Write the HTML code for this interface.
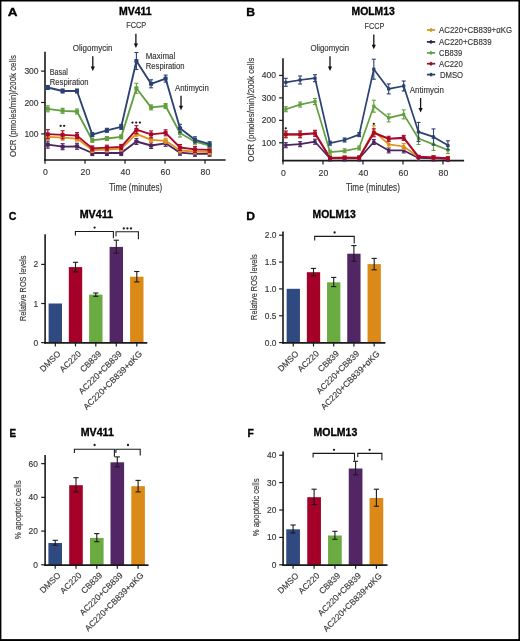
<!DOCTYPE html>
<html><head><meta charset="utf-8"><title>Figure</title>
<style>
html,body{margin:0;padding:0;background:#fff;}
body{width:520px;height:641px;overflow:hidden;}
svg{display:block;font-family:"Liberation Sans",sans-serif;will-change:transform;}
</style></head>
<body>
<svg width="520" height="641" viewBox="0 0 520 641">
<rect x="0" y="0" width="520" height="641" fill="#fff"/>
<text x="7.80" y="16.00" font-size="11.7" font-weight="bold" fill="#000" stroke="#000" stroke-width="0.3" textLength="9.80" lengthAdjust="spacingAndGlyphs">A</text>
<text x="118.90" y="14.70" font-size="10.0" font-weight="bold" fill="#000" stroke="#000" stroke-width="0.3" textLength="32.80" lengthAdjust="spacingAndGlyphs">MV411</text>
<line x1="45.00" y1="51.70" x2="45.00" y2="160.80" stroke="#1a1a1a" stroke-width="1.6"/>
<line x1="41.10" y1="133.90" x2="45.00" y2="133.90" stroke="#1a1a1a" stroke-width="1.2"/>
<text x="38.60" y="136.90" font-size="8.6" text-anchor="end" fill="#363636" stroke="#363636" stroke-width="0.15" textLength="14.20" lengthAdjust="spacingAndGlyphs">100</text>
<line x1="41.10" y1="102.50" x2="45.00" y2="102.50" stroke="#1a1a1a" stroke-width="1.2"/>
<text x="38.60" y="105.50" font-size="8.6" text-anchor="end" fill="#363636" stroke="#363636" stroke-width="0.15" textLength="14.20" lengthAdjust="spacingAndGlyphs">200</text>
<line x1="41.10" y1="71.10" x2="45.00" y2="71.10" stroke="#1a1a1a" stroke-width="1.2"/>
<text x="38.60" y="74.10" font-size="8.6" text-anchor="end" fill="#363636" stroke="#363636" stroke-width="0.15" textLength="14.20" lengthAdjust="spacingAndGlyphs">300</text>
<line x1="44.20" y1="160.00" x2="225.60" y2="160.00" stroke="#1a1a1a" stroke-width="1.6"/>
<line x1="45.00" y1="160.00" x2="45.00" y2="163.80" stroke="#1a1a1a" stroke-width="1.2"/>
<text x="45.40" y="175.20" font-size="8.7" text-anchor="middle" fill="#363636" stroke="#363636" stroke-width="0.15">0</text>
<line x1="85.00" y1="160.00" x2="85.00" y2="163.80" stroke="#1a1a1a" stroke-width="1.2"/>
<text x="85.40" y="175.20" font-size="8.7" text-anchor="middle" fill="#363636" stroke="#363636" stroke-width="0.15">20</text>
<line x1="125.00" y1="160.00" x2="125.00" y2="163.80" stroke="#1a1a1a" stroke-width="1.2"/>
<text x="125.40" y="175.20" font-size="8.7" text-anchor="middle" fill="#363636" stroke="#363636" stroke-width="0.15">40</text>
<line x1="165.00" y1="160.00" x2="165.00" y2="163.80" stroke="#1a1a1a" stroke-width="1.2"/>
<text x="165.40" y="175.20" font-size="8.7" text-anchor="middle" fill="#363636" stroke="#363636" stroke-width="0.15">60</text>
<line x1="205.00" y1="160.00" x2="205.00" y2="163.80" stroke="#1a1a1a" stroke-width="1.2"/>
<text x="205.40" y="175.20" font-size="8.7" text-anchor="middle" fill="#363636" stroke="#363636" stroke-width="0.15">80</text>
<text x="109.20" y="190.70" font-size="10.0" fill="#363636" stroke="#363636" stroke-width="0.15" textLength="53.00" lengthAdjust="spacingAndGlyphs">Time (minutes)</text>
<text transform="translate(15.60,156.90) rotate(-90)" font-size="9.0" fill="#363636" stroke="#363636" stroke-width="0.15" textLength="101.70" lengthAdjust="spacingAndGlyphs">OCR (pmoles/min)/200k cells</text>
<polyline points="47.80,144.60 62.60,146.70 77.00,146.30 92.30,153.00 106.90,153.00 121.20,153.00 136.40,141.50 151.10,145.50 165.60,143.30 180.00,152.70 195.00,153.80 209.60,153.80" fill="none" stroke="#4b2461" stroke-width="1.85" stroke-linejoin="round"/>
<line x1="47.80" y1="141.10" x2="47.80" y2="148.10" stroke="#4b2461" stroke-width="1.1"/>
<line x1="45.80" y1="141.10" x2="49.80" y2="141.10" stroke="#4b2461" stroke-width="1.1"/>
<line x1="45.80" y1="148.10" x2="49.80" y2="148.10" stroke="#4b2461" stroke-width="1.1"/>
<rect x="45.75" y="142.55" width="4.10" height="4.10" rx="0.9" fill="#4b2461"/>
<line x1="62.60" y1="143.70" x2="62.60" y2="149.70" stroke="#4b2461" stroke-width="1.1"/>
<line x1="60.60" y1="143.70" x2="64.60" y2="143.70" stroke="#4b2461" stroke-width="1.1"/>
<line x1="60.60" y1="149.70" x2="64.60" y2="149.70" stroke="#4b2461" stroke-width="1.1"/>
<rect x="60.55" y="144.65" width="4.10" height="4.10" rx="0.9" fill="#4b2461"/>
<line x1="77.00" y1="143.30" x2="77.00" y2="149.30" stroke="#4b2461" stroke-width="1.1"/>
<line x1="75.00" y1="143.30" x2="79.00" y2="143.30" stroke="#4b2461" stroke-width="1.1"/>
<line x1="75.00" y1="149.30" x2="79.00" y2="149.30" stroke="#4b2461" stroke-width="1.1"/>
<rect x="74.95" y="144.25" width="4.10" height="4.10" rx="0.9" fill="#4b2461"/>
<line x1="92.30" y1="150.50" x2="92.30" y2="155.50" stroke="#4b2461" stroke-width="1.1"/>
<line x1="90.30" y1="150.50" x2="94.30" y2="150.50" stroke="#4b2461" stroke-width="1.1"/>
<line x1="90.30" y1="155.50" x2="94.30" y2="155.50" stroke="#4b2461" stroke-width="1.1"/>
<rect x="90.25" y="150.95" width="4.10" height="4.10" rx="0.9" fill="#4b2461"/>
<line x1="106.90" y1="150.50" x2="106.90" y2="155.50" stroke="#4b2461" stroke-width="1.1"/>
<line x1="104.90" y1="150.50" x2="108.90" y2="150.50" stroke="#4b2461" stroke-width="1.1"/>
<line x1="104.90" y1="155.50" x2="108.90" y2="155.50" stroke="#4b2461" stroke-width="1.1"/>
<rect x="104.85" y="150.95" width="4.10" height="4.10" rx="0.9" fill="#4b2461"/>
<line x1="121.20" y1="150.50" x2="121.20" y2="155.50" stroke="#4b2461" stroke-width="1.1"/>
<line x1="119.20" y1="150.50" x2="123.20" y2="150.50" stroke="#4b2461" stroke-width="1.1"/>
<line x1="119.20" y1="155.50" x2="123.20" y2="155.50" stroke="#4b2461" stroke-width="1.1"/>
<rect x="119.15" y="150.95" width="4.10" height="4.10" rx="0.9" fill="#4b2461"/>
<line x1="136.40" y1="138.50" x2="136.40" y2="144.50" stroke="#4b2461" stroke-width="1.1"/>
<line x1="134.40" y1="138.50" x2="138.40" y2="138.50" stroke="#4b2461" stroke-width="1.1"/>
<line x1="134.40" y1="144.50" x2="138.40" y2="144.50" stroke="#4b2461" stroke-width="1.1"/>
<rect x="134.35" y="139.45" width="4.10" height="4.10" rx="0.9" fill="#4b2461"/>
<line x1="151.10" y1="142.50" x2="151.10" y2="148.50" stroke="#4b2461" stroke-width="1.1"/>
<line x1="149.10" y1="142.50" x2="153.10" y2="142.50" stroke="#4b2461" stroke-width="1.1"/>
<line x1="149.10" y1="148.50" x2="153.10" y2="148.50" stroke="#4b2461" stroke-width="1.1"/>
<rect x="149.05" y="143.45" width="4.10" height="4.10" rx="0.9" fill="#4b2461"/>
<line x1="165.60" y1="140.30" x2="165.60" y2="146.30" stroke="#4b2461" stroke-width="1.1"/>
<line x1="163.60" y1="140.30" x2="167.60" y2="140.30" stroke="#4b2461" stroke-width="1.1"/>
<line x1="163.60" y1="146.30" x2="167.60" y2="146.30" stroke="#4b2461" stroke-width="1.1"/>
<rect x="163.55" y="141.25" width="4.10" height="4.10" rx="0.9" fill="#4b2461"/>
<line x1="180.00" y1="150.20" x2="180.00" y2="155.20" stroke="#4b2461" stroke-width="1.1"/>
<line x1="178.00" y1="150.20" x2="182.00" y2="150.20" stroke="#4b2461" stroke-width="1.1"/>
<line x1="178.00" y1="155.20" x2="182.00" y2="155.20" stroke="#4b2461" stroke-width="1.1"/>
<rect x="177.95" y="150.65" width="4.10" height="4.10" rx="0.9" fill="#4b2461"/>
<line x1="195.00" y1="151.30" x2="195.00" y2="156.30" stroke="#4b2461" stroke-width="1.1"/>
<line x1="193.00" y1="151.30" x2="197.00" y2="151.30" stroke="#4b2461" stroke-width="1.1"/>
<line x1="193.00" y1="156.30" x2="197.00" y2="156.30" stroke="#4b2461" stroke-width="1.1"/>
<rect x="192.95" y="151.75" width="4.10" height="4.10" rx="0.9" fill="#4b2461"/>
<line x1="209.60" y1="151.30" x2="209.60" y2="156.30" stroke="#4b2461" stroke-width="1.1"/>
<line x1="207.60" y1="151.30" x2="211.60" y2="151.30" stroke="#4b2461" stroke-width="1.1"/>
<line x1="207.60" y1="156.30" x2="211.60" y2="156.30" stroke="#4b2461" stroke-width="1.1"/>
<rect x="207.55" y="151.75" width="4.10" height="4.10" rx="0.9" fill="#4b2461"/>
<polyline points="47.80,136.80 62.60,137.70 77.00,138.60 92.30,150.00 106.90,149.50 121.20,148.60 136.40,133.80 151.10,139.80 165.60,140.80 180.00,150.50 195.00,151.50 209.60,152.00" fill="none" stroke="#df921c" stroke-width="1.85" stroke-linejoin="round"/>
<line x1="47.80" y1="134.30" x2="47.80" y2="139.30" stroke="#df921c" stroke-width="1.1"/>
<line x1="45.80" y1="134.30" x2="49.80" y2="134.30" stroke="#df921c" stroke-width="1.1"/>
<line x1="45.80" y1="139.30" x2="49.80" y2="139.30" stroke="#df921c" stroke-width="1.1"/>
<rect x="45.75" y="134.75" width="4.10" height="4.10" rx="0.9" fill="#df921c"/>
<line x1="62.60" y1="135.20" x2="62.60" y2="140.20" stroke="#df921c" stroke-width="1.1"/>
<line x1="60.60" y1="135.20" x2="64.60" y2="135.20" stroke="#df921c" stroke-width="1.1"/>
<line x1="60.60" y1="140.20" x2="64.60" y2="140.20" stroke="#df921c" stroke-width="1.1"/>
<rect x="60.55" y="135.65" width="4.10" height="4.10" rx="0.9" fill="#df921c"/>
<line x1="77.00" y1="136.10" x2="77.00" y2="141.10" stroke="#df921c" stroke-width="1.1"/>
<line x1="75.00" y1="136.10" x2="79.00" y2="136.10" stroke="#df921c" stroke-width="1.1"/>
<line x1="75.00" y1="141.10" x2="79.00" y2="141.10" stroke="#df921c" stroke-width="1.1"/>
<rect x="74.95" y="136.55" width="4.10" height="4.10" rx="0.9" fill="#df921c"/>
<line x1="92.30" y1="147.50" x2="92.30" y2="152.50" stroke="#df921c" stroke-width="1.1"/>
<line x1="90.30" y1="147.50" x2="94.30" y2="147.50" stroke="#df921c" stroke-width="1.1"/>
<line x1="90.30" y1="152.50" x2="94.30" y2="152.50" stroke="#df921c" stroke-width="1.1"/>
<rect x="90.25" y="147.95" width="4.10" height="4.10" rx="0.9" fill="#df921c"/>
<line x1="106.90" y1="147.00" x2="106.90" y2="152.00" stroke="#df921c" stroke-width="1.1"/>
<line x1="104.90" y1="147.00" x2="108.90" y2="147.00" stroke="#df921c" stroke-width="1.1"/>
<line x1="104.90" y1="152.00" x2="108.90" y2="152.00" stroke="#df921c" stroke-width="1.1"/>
<rect x="104.85" y="147.45" width="4.10" height="4.10" rx="0.9" fill="#df921c"/>
<line x1="121.20" y1="146.10" x2="121.20" y2="151.10" stroke="#df921c" stroke-width="1.1"/>
<line x1="119.20" y1="146.10" x2="123.20" y2="146.10" stroke="#df921c" stroke-width="1.1"/>
<line x1="119.20" y1="151.10" x2="123.20" y2="151.10" stroke="#df921c" stroke-width="1.1"/>
<rect x="119.15" y="146.55" width="4.10" height="4.10" rx="0.9" fill="#df921c"/>
<line x1="136.40" y1="131.30" x2="136.40" y2="136.30" stroke="#df921c" stroke-width="1.1"/>
<line x1="134.40" y1="131.30" x2="138.40" y2="131.30" stroke="#df921c" stroke-width="1.1"/>
<line x1="134.40" y1="136.30" x2="138.40" y2="136.30" stroke="#df921c" stroke-width="1.1"/>
<rect x="134.35" y="131.75" width="4.10" height="4.10" rx="0.9" fill="#df921c"/>
<line x1="151.10" y1="137.30" x2="151.10" y2="142.30" stroke="#df921c" stroke-width="1.1"/>
<line x1="149.10" y1="137.30" x2="153.10" y2="137.30" stroke="#df921c" stroke-width="1.1"/>
<line x1="149.10" y1="142.30" x2="153.10" y2="142.30" stroke="#df921c" stroke-width="1.1"/>
<rect x="149.05" y="137.75" width="4.10" height="4.10" rx="0.9" fill="#df921c"/>
<line x1="165.60" y1="138.30" x2="165.60" y2="143.30" stroke="#df921c" stroke-width="1.1"/>
<line x1="163.60" y1="138.30" x2="167.60" y2="138.30" stroke="#df921c" stroke-width="1.1"/>
<line x1="163.60" y1="143.30" x2="167.60" y2="143.30" stroke="#df921c" stroke-width="1.1"/>
<rect x="163.55" y="138.75" width="4.10" height="4.10" rx="0.9" fill="#df921c"/>
<line x1="180.00" y1="148.00" x2="180.00" y2="153.00" stroke="#df921c" stroke-width="1.1"/>
<line x1="178.00" y1="148.00" x2="182.00" y2="148.00" stroke="#df921c" stroke-width="1.1"/>
<line x1="178.00" y1="153.00" x2="182.00" y2="153.00" stroke="#df921c" stroke-width="1.1"/>
<rect x="177.95" y="148.45" width="4.10" height="4.10" rx="0.9" fill="#df921c"/>
<line x1="195.00" y1="149.00" x2="195.00" y2="154.00" stroke="#df921c" stroke-width="1.1"/>
<line x1="193.00" y1="149.00" x2="197.00" y2="149.00" stroke="#df921c" stroke-width="1.1"/>
<line x1="193.00" y1="154.00" x2="197.00" y2="154.00" stroke="#df921c" stroke-width="1.1"/>
<rect x="192.95" y="149.45" width="4.10" height="4.10" rx="0.9" fill="#df921c"/>
<line x1="209.60" y1="149.50" x2="209.60" y2="154.50" stroke="#df921c" stroke-width="1.1"/>
<line x1="207.60" y1="149.50" x2="211.60" y2="149.50" stroke="#df921c" stroke-width="1.1"/>
<line x1="207.60" y1="154.50" x2="211.60" y2="154.50" stroke="#df921c" stroke-width="1.1"/>
<rect x="207.55" y="149.95" width="4.10" height="4.10" rx="0.9" fill="#df921c"/>
<polyline points="47.80,134.20 62.60,134.80 77.00,135.60 92.30,148.40 106.90,147.70 121.20,146.90 136.40,129.70 151.10,134.40 165.60,132.80 180.00,147.50 195.00,149.40 209.60,149.80" fill="none" stroke="#a8082c" stroke-width="1.85" stroke-linejoin="round"/>
<line x1="47.80" y1="129.70" x2="47.80" y2="138.70" stroke="#a8082c" stroke-width="1.1"/>
<line x1="45.80" y1="129.70" x2="49.80" y2="129.70" stroke="#a8082c" stroke-width="1.1"/>
<line x1="45.80" y1="138.70" x2="49.80" y2="138.70" stroke="#a8082c" stroke-width="1.1"/>
<rect x="45.75" y="132.15" width="4.10" height="4.10" rx="0.9" fill="#a8082c"/>
<line x1="62.60" y1="130.80" x2="62.60" y2="138.80" stroke="#a8082c" stroke-width="1.1"/>
<line x1="60.60" y1="130.80" x2="64.60" y2="130.80" stroke="#a8082c" stroke-width="1.1"/>
<line x1="60.60" y1="138.80" x2="64.60" y2="138.80" stroke="#a8082c" stroke-width="1.1"/>
<rect x="60.55" y="132.75" width="4.10" height="4.10" rx="0.9" fill="#a8082c"/>
<line x1="77.00" y1="132.60" x2="77.00" y2="138.60" stroke="#a8082c" stroke-width="1.1"/>
<line x1="75.00" y1="132.60" x2="79.00" y2="132.60" stroke="#a8082c" stroke-width="1.1"/>
<line x1="75.00" y1="138.60" x2="79.00" y2="138.60" stroke="#a8082c" stroke-width="1.1"/>
<rect x="74.95" y="133.55" width="4.10" height="4.10" rx="0.9" fill="#a8082c"/>
<line x1="92.30" y1="145.90" x2="92.30" y2="150.90" stroke="#a8082c" stroke-width="1.1"/>
<line x1="90.30" y1="145.90" x2="94.30" y2="145.90" stroke="#a8082c" stroke-width="1.1"/>
<line x1="90.30" y1="150.90" x2="94.30" y2="150.90" stroke="#a8082c" stroke-width="1.1"/>
<rect x="90.25" y="146.35" width="4.10" height="4.10" rx="0.9" fill="#a8082c"/>
<line x1="106.90" y1="145.20" x2="106.90" y2="150.20" stroke="#a8082c" stroke-width="1.1"/>
<line x1="104.90" y1="145.20" x2="108.90" y2="145.20" stroke="#a8082c" stroke-width="1.1"/>
<line x1="104.90" y1="150.20" x2="108.90" y2="150.20" stroke="#a8082c" stroke-width="1.1"/>
<rect x="104.85" y="145.65" width="4.10" height="4.10" rx="0.9" fill="#a8082c"/>
<line x1="121.20" y1="144.40" x2="121.20" y2="149.40" stroke="#a8082c" stroke-width="1.1"/>
<line x1="119.20" y1="144.40" x2="123.20" y2="144.40" stroke="#a8082c" stroke-width="1.1"/>
<line x1="119.20" y1="149.40" x2="123.20" y2="149.40" stroke="#a8082c" stroke-width="1.1"/>
<rect x="119.15" y="144.85" width="4.10" height="4.10" rx="0.9" fill="#a8082c"/>
<line x1="136.40" y1="125.70" x2="136.40" y2="133.70" stroke="#a8082c" stroke-width="1.1"/>
<line x1="134.40" y1="125.70" x2="138.40" y2="125.70" stroke="#a8082c" stroke-width="1.1"/>
<line x1="134.40" y1="133.70" x2="138.40" y2="133.70" stroke="#a8082c" stroke-width="1.1"/>
<rect x="134.35" y="127.65" width="4.10" height="4.10" rx="0.9" fill="#a8082c"/>
<line x1="151.10" y1="130.90" x2="151.10" y2="137.90" stroke="#a8082c" stroke-width="1.1"/>
<line x1="149.10" y1="130.90" x2="153.10" y2="130.90" stroke="#a8082c" stroke-width="1.1"/>
<line x1="149.10" y1="137.90" x2="153.10" y2="137.90" stroke="#a8082c" stroke-width="1.1"/>
<rect x="149.05" y="132.35" width="4.10" height="4.10" rx="0.9" fill="#a8082c"/>
<line x1="165.60" y1="129.80" x2="165.60" y2="135.80" stroke="#a8082c" stroke-width="1.1"/>
<line x1="163.60" y1="129.80" x2="167.60" y2="129.80" stroke="#a8082c" stroke-width="1.1"/>
<line x1="163.60" y1="135.80" x2="167.60" y2="135.80" stroke="#a8082c" stroke-width="1.1"/>
<rect x="163.55" y="130.75" width="4.10" height="4.10" rx="0.9" fill="#a8082c"/>
<line x1="180.00" y1="144.50" x2="180.00" y2="150.50" stroke="#a8082c" stroke-width="1.1"/>
<line x1="178.00" y1="144.50" x2="182.00" y2="144.50" stroke="#a8082c" stroke-width="1.1"/>
<line x1="178.00" y1="150.50" x2="182.00" y2="150.50" stroke="#a8082c" stroke-width="1.1"/>
<rect x="177.95" y="145.45" width="4.10" height="4.10" rx="0.9" fill="#a8082c"/>
<line x1="195.00" y1="146.40" x2="195.00" y2="152.40" stroke="#a8082c" stroke-width="1.1"/>
<line x1="193.00" y1="146.40" x2="197.00" y2="146.40" stroke="#a8082c" stroke-width="1.1"/>
<line x1="193.00" y1="152.40" x2="197.00" y2="152.40" stroke="#a8082c" stroke-width="1.1"/>
<rect x="192.95" y="147.35" width="4.10" height="4.10" rx="0.9" fill="#a8082c"/>
<line x1="209.60" y1="147.30" x2="209.60" y2="152.30" stroke="#a8082c" stroke-width="1.1"/>
<line x1="207.60" y1="147.30" x2="211.60" y2="147.30" stroke="#a8082c" stroke-width="1.1"/>
<line x1="207.60" y1="152.30" x2="211.60" y2="152.30" stroke="#a8082c" stroke-width="1.1"/>
<rect x="207.55" y="147.75" width="4.10" height="4.10" rx="0.9" fill="#a8082c"/>
<polyline points="47.80,108.80 62.60,110.80 77.00,111.50 92.30,140.30 106.90,138.50 121.20,136.90 136.40,88.30 151.10,107.40 165.60,106.00 180.00,133.00 195.00,141.70 209.60,145.60" fill="none" stroke="#62a03f" stroke-width="1.85" stroke-linejoin="round"/>
<line x1="47.80" y1="105.80" x2="47.80" y2="111.80" stroke="#62a03f" stroke-width="1.1"/>
<line x1="45.80" y1="105.80" x2="49.80" y2="105.80" stroke="#62a03f" stroke-width="1.1"/>
<line x1="45.80" y1="111.80" x2="49.80" y2="111.80" stroke="#62a03f" stroke-width="1.1"/>
<rect x="45.75" y="106.75" width="4.10" height="4.10" rx="0.9" fill="#62a03f"/>
<line x1="62.60" y1="108.30" x2="62.60" y2="113.30" stroke="#62a03f" stroke-width="1.1"/>
<line x1="60.60" y1="108.30" x2="64.60" y2="108.30" stroke="#62a03f" stroke-width="1.1"/>
<line x1="60.60" y1="113.30" x2="64.60" y2="113.30" stroke="#62a03f" stroke-width="1.1"/>
<rect x="60.55" y="108.75" width="4.10" height="4.10" rx="0.9" fill="#62a03f"/>
<line x1="77.00" y1="109.00" x2="77.00" y2="114.00" stroke="#62a03f" stroke-width="1.1"/>
<line x1="75.00" y1="109.00" x2="79.00" y2="109.00" stroke="#62a03f" stroke-width="1.1"/>
<line x1="75.00" y1="114.00" x2="79.00" y2="114.00" stroke="#62a03f" stroke-width="1.1"/>
<rect x="74.95" y="109.45" width="4.10" height="4.10" rx="0.9" fill="#62a03f"/>
<line x1="92.30" y1="138.30" x2="92.30" y2="142.30" stroke="#62a03f" stroke-width="1.1"/>
<line x1="90.30" y1="138.30" x2="94.30" y2="138.30" stroke="#62a03f" stroke-width="1.1"/>
<line x1="90.30" y1="142.30" x2="94.30" y2="142.30" stroke="#62a03f" stroke-width="1.1"/>
<rect x="90.25" y="138.25" width="4.10" height="4.10" rx="0.9" fill="#62a03f"/>
<line x1="106.90" y1="136.50" x2="106.90" y2="140.50" stroke="#62a03f" stroke-width="1.1"/>
<line x1="104.90" y1="136.50" x2="108.90" y2="136.50" stroke="#62a03f" stroke-width="1.1"/>
<line x1="104.90" y1="140.50" x2="108.90" y2="140.50" stroke="#62a03f" stroke-width="1.1"/>
<rect x="104.85" y="136.45" width="4.10" height="4.10" rx="0.9" fill="#62a03f"/>
<line x1="121.20" y1="134.90" x2="121.20" y2="138.90" stroke="#62a03f" stroke-width="1.1"/>
<line x1="119.20" y1="134.90" x2="123.20" y2="134.90" stroke="#62a03f" stroke-width="1.1"/>
<line x1="119.20" y1="138.90" x2="123.20" y2="138.90" stroke="#62a03f" stroke-width="1.1"/>
<rect x="119.15" y="134.85" width="4.10" height="4.10" rx="0.9" fill="#62a03f"/>
<line x1="136.40" y1="83.30" x2="136.40" y2="93.30" stroke="#62a03f" stroke-width="1.1"/>
<line x1="134.40" y1="83.30" x2="138.40" y2="83.30" stroke="#62a03f" stroke-width="1.1"/>
<line x1="134.40" y1="93.30" x2="138.40" y2="93.30" stroke="#62a03f" stroke-width="1.1"/>
<rect x="134.35" y="86.25" width="4.10" height="4.10" rx="0.9" fill="#62a03f"/>
<line x1="151.10" y1="104.90" x2="151.10" y2="109.90" stroke="#62a03f" stroke-width="1.1"/>
<line x1="149.10" y1="104.90" x2="153.10" y2="104.90" stroke="#62a03f" stroke-width="1.1"/>
<line x1="149.10" y1="109.90" x2="153.10" y2="109.90" stroke="#62a03f" stroke-width="1.1"/>
<rect x="149.05" y="105.35" width="4.10" height="4.10" rx="0.9" fill="#62a03f"/>
<line x1="165.60" y1="103.50" x2="165.60" y2="108.50" stroke="#62a03f" stroke-width="1.1"/>
<line x1="163.60" y1="103.50" x2="167.60" y2="103.50" stroke="#62a03f" stroke-width="1.1"/>
<line x1="163.60" y1="108.50" x2="167.60" y2="108.50" stroke="#62a03f" stroke-width="1.1"/>
<rect x="163.55" y="103.95" width="4.10" height="4.10" rx="0.9" fill="#62a03f"/>
<line x1="180.00" y1="129.00" x2="180.00" y2="137.00" stroke="#62a03f" stroke-width="1.1"/>
<line x1="178.00" y1="129.00" x2="182.00" y2="129.00" stroke="#62a03f" stroke-width="1.1"/>
<line x1="178.00" y1="137.00" x2="182.00" y2="137.00" stroke="#62a03f" stroke-width="1.1"/>
<rect x="177.95" y="130.95" width="4.10" height="4.10" rx="0.9" fill="#62a03f"/>
<line x1="195.00" y1="139.20" x2="195.00" y2="144.20" stroke="#62a03f" stroke-width="1.1"/>
<line x1="193.00" y1="139.20" x2="197.00" y2="139.20" stroke="#62a03f" stroke-width="1.1"/>
<line x1="193.00" y1="144.20" x2="197.00" y2="144.20" stroke="#62a03f" stroke-width="1.1"/>
<rect x="192.95" y="139.65" width="4.10" height="4.10" rx="0.9" fill="#62a03f"/>
<line x1="209.60" y1="143.10" x2="209.60" y2="148.10" stroke="#62a03f" stroke-width="1.1"/>
<line x1="207.60" y1="143.10" x2="211.60" y2="143.10" stroke="#62a03f" stroke-width="1.1"/>
<line x1="207.60" y1="148.10" x2="211.60" y2="148.10" stroke="#62a03f" stroke-width="1.1"/>
<rect x="207.55" y="143.55" width="4.10" height="4.10" rx="0.9" fill="#62a03f"/>
<polyline points="47.80,87.50 62.60,91.00 77.00,91.00 92.30,134.60 106.90,130.30 121.20,126.90 136.40,61.00 151.10,83.80 165.60,78.60 180.00,128.30 195.00,139.80 209.60,144.20" fill="none" stroke="#2a4172" stroke-width="1.85" stroke-linejoin="round"/>
<line x1="47.80" y1="85.50" x2="47.80" y2="89.50" stroke="#2a4172" stroke-width="1.1"/>
<line x1="45.80" y1="85.50" x2="49.80" y2="85.50" stroke="#2a4172" stroke-width="1.1"/>
<line x1="45.80" y1="89.50" x2="49.80" y2="89.50" stroke="#2a4172" stroke-width="1.1"/>
<rect x="45.75" y="85.45" width="4.10" height="4.10" rx="0.9" fill="#2a4172"/>
<line x1="62.60" y1="89.00" x2="62.60" y2="93.00" stroke="#2a4172" stroke-width="1.1"/>
<line x1="60.60" y1="89.00" x2="64.60" y2="89.00" stroke="#2a4172" stroke-width="1.1"/>
<line x1="60.60" y1="93.00" x2="64.60" y2="93.00" stroke="#2a4172" stroke-width="1.1"/>
<rect x="60.55" y="88.95" width="4.10" height="4.10" rx="0.9" fill="#2a4172"/>
<line x1="77.00" y1="89.00" x2="77.00" y2="93.00" stroke="#2a4172" stroke-width="1.1"/>
<line x1="75.00" y1="89.00" x2="79.00" y2="89.00" stroke="#2a4172" stroke-width="1.1"/>
<line x1="75.00" y1="93.00" x2="79.00" y2="93.00" stroke="#2a4172" stroke-width="1.1"/>
<rect x="74.95" y="88.95" width="4.10" height="4.10" rx="0.9" fill="#2a4172"/>
<line x1="92.30" y1="132.60" x2="92.30" y2="136.60" stroke="#2a4172" stroke-width="1.1"/>
<line x1="90.30" y1="132.60" x2="94.30" y2="132.60" stroke="#2a4172" stroke-width="1.1"/>
<line x1="90.30" y1="136.60" x2="94.30" y2="136.60" stroke="#2a4172" stroke-width="1.1"/>
<rect x="90.25" y="132.55" width="4.10" height="4.10" rx="0.9" fill="#2a4172"/>
<line x1="106.90" y1="128.30" x2="106.90" y2="132.30" stroke="#2a4172" stroke-width="1.1"/>
<line x1="104.90" y1="128.30" x2="108.90" y2="128.30" stroke="#2a4172" stroke-width="1.1"/>
<line x1="104.90" y1="132.30" x2="108.90" y2="132.30" stroke="#2a4172" stroke-width="1.1"/>
<rect x="104.85" y="128.25" width="4.10" height="4.10" rx="0.9" fill="#2a4172"/>
<line x1="121.20" y1="124.40" x2="121.20" y2="129.40" stroke="#2a4172" stroke-width="1.1"/>
<line x1="119.20" y1="124.40" x2="123.20" y2="124.40" stroke="#2a4172" stroke-width="1.1"/>
<line x1="119.20" y1="129.40" x2="123.20" y2="129.40" stroke="#2a4172" stroke-width="1.1"/>
<rect x="119.15" y="124.85" width="4.10" height="4.10" rx="0.9" fill="#2a4172"/>
<line x1="136.40" y1="52.50" x2="136.40" y2="69.50" stroke="#2a4172" stroke-width="1.1"/>
<line x1="134.40" y1="52.50" x2="138.40" y2="52.50" stroke="#2a4172" stroke-width="1.1"/>
<line x1="134.40" y1="69.50" x2="138.40" y2="69.50" stroke="#2a4172" stroke-width="1.1"/>
<rect x="134.35" y="58.95" width="4.10" height="4.10" rx="0.9" fill="#2a4172"/>
<line x1="151.10" y1="79.80" x2="151.10" y2="87.80" stroke="#2a4172" stroke-width="1.1"/>
<line x1="149.10" y1="79.80" x2="153.10" y2="79.80" stroke="#2a4172" stroke-width="1.1"/>
<line x1="149.10" y1="87.80" x2="153.10" y2="87.80" stroke="#2a4172" stroke-width="1.1"/>
<rect x="149.05" y="81.75" width="4.10" height="4.10" rx="0.9" fill="#2a4172"/>
<line x1="165.60" y1="75.10" x2="165.60" y2="82.10" stroke="#2a4172" stroke-width="1.1"/>
<line x1="163.60" y1="75.10" x2="167.60" y2="75.10" stroke="#2a4172" stroke-width="1.1"/>
<line x1="163.60" y1="82.10" x2="167.60" y2="82.10" stroke="#2a4172" stroke-width="1.1"/>
<rect x="163.55" y="76.55" width="4.10" height="4.10" rx="0.9" fill="#2a4172"/>
<line x1="180.00" y1="124.30" x2="180.00" y2="132.30" stroke="#2a4172" stroke-width="1.1"/>
<line x1="178.00" y1="124.30" x2="182.00" y2="124.30" stroke="#2a4172" stroke-width="1.1"/>
<line x1="178.00" y1="132.30" x2="182.00" y2="132.30" stroke="#2a4172" stroke-width="1.1"/>
<rect x="177.95" y="126.25" width="4.10" height="4.10" rx="0.9" fill="#2a4172"/>
<line x1="195.00" y1="136.80" x2="195.00" y2="142.80" stroke="#2a4172" stroke-width="1.1"/>
<line x1="193.00" y1="136.80" x2="197.00" y2="136.80" stroke="#2a4172" stroke-width="1.1"/>
<line x1="193.00" y1="142.80" x2="197.00" y2="142.80" stroke="#2a4172" stroke-width="1.1"/>
<rect x="192.95" y="137.75" width="4.10" height="4.10" rx="0.9" fill="#2a4172"/>
<line x1="209.60" y1="141.70" x2="209.60" y2="146.70" stroke="#2a4172" stroke-width="1.1"/>
<line x1="207.60" y1="141.70" x2="211.60" y2="141.70" stroke="#2a4172" stroke-width="1.1"/>
<line x1="207.60" y1="146.70" x2="211.60" y2="146.70" stroke="#2a4172" stroke-width="1.1"/>
<rect x="207.55" y="142.15" width="4.10" height="4.10" rx="0.9" fill="#2a4172"/>
<circle cx="60.65" cy="125.80" r="1.15" fill="#1a1a1a"/>
<circle cx="64.15" cy="125.80" r="1.15" fill="#1a1a1a"/>
<circle cx="132.50" cy="122.60" r="1.15" fill="#1a1a1a"/>
<circle cx="136.20" cy="122.60" r="1.15" fill="#1a1a1a"/>
<circle cx="139.90" cy="122.60" r="1.15" fill="#1a1a1a"/>
<text x="49.80" y="75.10" font-size="8.2" fill="#363636" stroke="#363636" stroke-width="0.15" textLength="18.00" lengthAdjust="spacingAndGlyphs">Basal</text>
<text x="49.80" y="84.90" font-size="8.2" fill="#363636" stroke="#363636" stroke-width="0.15" textLength="38.70" lengthAdjust="spacingAndGlyphs">Respiration</text>
<text x="72.80" y="50.60" font-size="8.2" fill="#363636" stroke="#363636" stroke-width="0.15" textLength="39.70" lengthAdjust="spacingAndGlyphs">Oligomycin</text>
<line x1="92.80" y1="56.30" x2="92.80" y2="67.40" stroke="#111" stroke-width="1.3"/>
<path d="M90.70,66.40 L94.90,66.40 L92.80,70.90 Z" fill="#111"/>
<text x="126.20" y="28.40" font-size="8.8" fill="#363636" stroke="#363636" stroke-width="0.15" textLength="20.00" lengthAdjust="spacingAndGlyphs">FCCP</text>
<line x1="135.90" y1="33.80" x2="135.90" y2="44.50" stroke="#111" stroke-width="1.3"/>
<path d="M133.80,43.50 L138.00,43.50 L135.90,48.00 Z" fill="#111"/>
<text x="145.80" y="59.00" font-size="8.2" fill="#363636" stroke="#363636" stroke-width="0.15" textLength="29.40" lengthAdjust="spacingAndGlyphs">Maximal</text>
<text x="145.80" y="68.70" font-size="8.2" fill="#363636" stroke="#363636" stroke-width="0.15" textLength="38.80" lengthAdjust="spacingAndGlyphs">Respiration</text>
<text x="175.00" y="90.50" font-size="8.2" fill="#363636" stroke="#363636" stroke-width="0.15" textLength="33.80" lengthAdjust="spacingAndGlyphs">Antimycin</text>
<line x1="181.00" y1="95.80" x2="181.00" y2="106.80" stroke="#111" stroke-width="1.3"/>
<path d="M178.90,105.80 L183.10,105.80 L181.00,110.30 Z" fill="#111"/>
<text x="246.30" y="15.80" font-size="11.7" font-weight="bold" fill="#000" stroke="#000" stroke-width="0.3" textLength="8.80" lengthAdjust="spacingAndGlyphs">B</text>
<text x="351.50" y="14.60" font-size="10.0" font-weight="bold" fill="#000" stroke="#000" stroke-width="0.3" textLength="43.20" lengthAdjust="spacingAndGlyphs">MOLM13</text>
<line x1="283.00" y1="58.20" x2="283.00" y2="161.40" stroke="#1a1a1a" stroke-width="1.6"/>
<line x1="279.10" y1="142.80" x2="283.00" y2="142.80" stroke="#1a1a1a" stroke-width="1.2"/>
<text x="276.00" y="145.80" font-size="8.6" text-anchor="end" fill="#363636" stroke="#363636" stroke-width="0.15" textLength="14.20" lengthAdjust="spacingAndGlyphs">100</text>
<line x1="279.10" y1="120.35" x2="283.00" y2="120.35" stroke="#1a1a1a" stroke-width="1.2"/>
<text x="276.00" y="123.35" font-size="8.6" text-anchor="end" fill="#363636" stroke="#363636" stroke-width="0.15" textLength="14.20" lengthAdjust="spacingAndGlyphs">200</text>
<line x1="279.10" y1="97.90" x2="283.00" y2="97.90" stroke="#1a1a1a" stroke-width="1.2"/>
<text x="276.00" y="100.90" font-size="8.6" text-anchor="end" fill="#363636" stroke="#363636" stroke-width="0.15" textLength="14.20" lengthAdjust="spacingAndGlyphs">300</text>
<line x1="279.10" y1="75.45" x2="283.00" y2="75.45" stroke="#1a1a1a" stroke-width="1.2"/>
<text x="276.00" y="78.45" font-size="8.6" text-anchor="end" fill="#363636" stroke="#363636" stroke-width="0.15" textLength="14.20" lengthAdjust="spacingAndGlyphs">400</text>
<line x1="282.20" y1="160.60" x2="464.10" y2="160.60" stroke="#1a1a1a" stroke-width="1.6"/>
<line x1="283.00" y1="160.60" x2="283.00" y2="164.40" stroke="#1a1a1a" stroke-width="1.2"/>
<text x="283.40" y="175.50" font-size="8.7" text-anchor="middle" fill="#363636" stroke="#363636" stroke-width="0.15">0</text>
<line x1="323.00" y1="160.60" x2="323.00" y2="164.40" stroke="#1a1a1a" stroke-width="1.2"/>
<text x="323.40" y="175.50" font-size="8.7" text-anchor="middle" fill="#363636" stroke="#363636" stroke-width="0.15">20</text>
<line x1="363.00" y1="160.60" x2="363.00" y2="164.40" stroke="#1a1a1a" stroke-width="1.2"/>
<text x="363.40" y="175.50" font-size="8.7" text-anchor="middle" fill="#363636" stroke="#363636" stroke-width="0.15">40</text>
<line x1="403.00" y1="160.60" x2="403.00" y2="164.40" stroke="#1a1a1a" stroke-width="1.2"/>
<text x="403.40" y="175.50" font-size="8.7" text-anchor="middle" fill="#363636" stroke="#363636" stroke-width="0.15">60</text>
<line x1="443.00" y1="160.60" x2="443.00" y2="164.40" stroke="#1a1a1a" stroke-width="1.2"/>
<text x="443.40" y="175.50" font-size="8.7" text-anchor="middle" fill="#363636" stroke="#363636" stroke-width="0.15">80</text>
<text x="345.90" y="190.50" font-size="10.0" fill="#363636" stroke="#363636" stroke-width="0.15" textLength="54.00" lengthAdjust="spacingAndGlyphs">Time (minutes)</text>
<text transform="translate(253.70,161.70) rotate(-90)" font-size="9.0" fill="#363636" stroke="#363636" stroke-width="0.15" textLength="103.90" lengthAdjust="spacingAndGlyphs">OCR (pmoles/min)/200k cells</text>
<polyline points="285.80,145.20 300.10,144.20 315.00,141.70 330.00,158.50 344.60,158.50 359.20,158.50 373.80,142.00 388.70,150.40 403.70,150.40 418.50,158.00 433.50,158.50 447.90,159.00" fill="none" stroke="#4b2461" stroke-width="1.7" stroke-linejoin="round"/>
<line x1="285.80" y1="142.70" x2="285.80" y2="147.70" stroke="#4b2461" stroke-width="1.1"/>
<line x1="283.80" y1="142.70" x2="287.80" y2="142.70" stroke="#4b2461" stroke-width="1.1"/>
<line x1="283.80" y1="147.70" x2="287.80" y2="147.70" stroke="#4b2461" stroke-width="1.1"/>
<rect x="284.15" y="143.55" width="3.30" height="3.30" rx="0.9" fill="#4b2461"/>
<line x1="300.10" y1="141.70" x2="300.10" y2="146.70" stroke="#4b2461" stroke-width="1.1"/>
<line x1="298.10" y1="141.70" x2="302.10" y2="141.70" stroke="#4b2461" stroke-width="1.1"/>
<line x1="298.10" y1="146.70" x2="302.10" y2="146.70" stroke="#4b2461" stroke-width="1.1"/>
<rect x="298.45" y="142.55" width="3.30" height="3.30" rx="0.9" fill="#4b2461"/>
<line x1="315.00" y1="139.20" x2="315.00" y2="144.20" stroke="#4b2461" stroke-width="1.1"/>
<line x1="313.00" y1="139.20" x2="317.00" y2="139.20" stroke="#4b2461" stroke-width="1.1"/>
<line x1="313.00" y1="144.20" x2="317.00" y2="144.20" stroke="#4b2461" stroke-width="1.1"/>
<rect x="313.35" y="140.05" width="3.30" height="3.30" rx="0.9" fill="#4b2461"/>
<line x1="330.00" y1="156.00" x2="330.00" y2="161.00" stroke="#4b2461" stroke-width="1.1"/>
<line x1="328.00" y1="156.00" x2="332.00" y2="156.00" stroke="#4b2461" stroke-width="1.1"/>
<line x1="328.00" y1="161.00" x2="332.00" y2="161.00" stroke="#4b2461" stroke-width="1.1"/>
<rect x="328.35" y="156.85" width="3.30" height="3.30" rx="0.9" fill="#4b2461"/>
<line x1="344.60" y1="156.00" x2="344.60" y2="161.00" stroke="#4b2461" stroke-width="1.1"/>
<line x1="342.60" y1="156.00" x2="346.60" y2="156.00" stroke="#4b2461" stroke-width="1.1"/>
<line x1="342.60" y1="161.00" x2="346.60" y2="161.00" stroke="#4b2461" stroke-width="1.1"/>
<rect x="342.95" y="156.85" width="3.30" height="3.30" rx="0.9" fill="#4b2461"/>
<line x1="359.20" y1="156.00" x2="359.20" y2="161.00" stroke="#4b2461" stroke-width="1.1"/>
<line x1="357.20" y1="156.00" x2="361.20" y2="156.00" stroke="#4b2461" stroke-width="1.1"/>
<line x1="357.20" y1="161.00" x2="361.20" y2="161.00" stroke="#4b2461" stroke-width="1.1"/>
<rect x="357.55" y="156.85" width="3.30" height="3.30" rx="0.9" fill="#4b2461"/>
<line x1="373.80" y1="139.50" x2="373.80" y2="144.50" stroke="#4b2461" stroke-width="1.1"/>
<line x1="371.80" y1="139.50" x2="375.80" y2="139.50" stroke="#4b2461" stroke-width="1.1"/>
<line x1="371.80" y1="144.50" x2="375.80" y2="144.50" stroke="#4b2461" stroke-width="1.1"/>
<rect x="372.15" y="140.35" width="3.30" height="3.30" rx="0.9" fill="#4b2461"/>
<line x1="388.70" y1="147.90" x2="388.70" y2="152.90" stroke="#4b2461" stroke-width="1.1"/>
<line x1="386.70" y1="147.90" x2="390.70" y2="147.90" stroke="#4b2461" stroke-width="1.1"/>
<line x1="386.70" y1="152.90" x2="390.70" y2="152.90" stroke="#4b2461" stroke-width="1.1"/>
<rect x="387.05" y="148.75" width="3.30" height="3.30" rx="0.9" fill="#4b2461"/>
<line x1="403.70" y1="147.90" x2="403.70" y2="152.90" stroke="#4b2461" stroke-width="1.1"/>
<line x1="401.70" y1="147.90" x2="405.70" y2="147.90" stroke="#4b2461" stroke-width="1.1"/>
<line x1="401.70" y1="152.90" x2="405.70" y2="152.90" stroke="#4b2461" stroke-width="1.1"/>
<rect x="402.05" y="148.75" width="3.30" height="3.30" rx="0.9" fill="#4b2461"/>
<line x1="418.50" y1="155.50" x2="418.50" y2="160.50" stroke="#4b2461" stroke-width="1.1"/>
<line x1="416.50" y1="155.50" x2="420.50" y2="155.50" stroke="#4b2461" stroke-width="1.1"/>
<line x1="416.50" y1="160.50" x2="420.50" y2="160.50" stroke="#4b2461" stroke-width="1.1"/>
<rect x="416.85" y="156.35" width="3.30" height="3.30" rx="0.9" fill="#4b2461"/>
<line x1="433.50" y1="156.00" x2="433.50" y2="161.00" stroke="#4b2461" stroke-width="1.1"/>
<line x1="431.50" y1="156.00" x2="435.50" y2="156.00" stroke="#4b2461" stroke-width="1.1"/>
<line x1="431.50" y1="161.00" x2="435.50" y2="161.00" stroke="#4b2461" stroke-width="1.1"/>
<rect x="431.85" y="156.85" width="3.30" height="3.30" rx="0.9" fill="#4b2461"/>
<line x1="447.90" y1="156.50" x2="447.90" y2="161.50" stroke="#4b2461" stroke-width="1.1"/>
<line x1="445.90" y1="156.50" x2="449.90" y2="156.50" stroke="#4b2461" stroke-width="1.1"/>
<line x1="445.90" y1="161.50" x2="449.90" y2="161.50" stroke="#4b2461" stroke-width="1.1"/>
<rect x="446.25" y="157.35" width="3.30" height="3.30" rx="0.9" fill="#4b2461"/>
<polyline points="285.80,134.60 300.10,134.60 315.00,133.50 330.00,157.50 344.60,157.50 359.20,157.50 373.80,130.80 388.70,144.30 403.70,146.50 418.50,157.00 433.50,157.50 447.90,158.00" fill="none" stroke="#df921c" stroke-width="1.7" stroke-linejoin="round"/>
<line x1="285.80" y1="132.10" x2="285.80" y2="137.10" stroke="#df921c" stroke-width="1.1"/>
<line x1="283.80" y1="132.10" x2="287.80" y2="132.10" stroke="#df921c" stroke-width="1.1"/>
<line x1="283.80" y1="137.10" x2="287.80" y2="137.10" stroke="#df921c" stroke-width="1.1"/>
<rect x="284.15" y="132.95" width="3.30" height="3.30" rx="0.9" fill="#df921c"/>
<line x1="300.10" y1="132.10" x2="300.10" y2="137.10" stroke="#df921c" stroke-width="1.1"/>
<line x1="298.10" y1="132.10" x2="302.10" y2="132.10" stroke="#df921c" stroke-width="1.1"/>
<line x1="298.10" y1="137.10" x2="302.10" y2="137.10" stroke="#df921c" stroke-width="1.1"/>
<rect x="298.45" y="132.95" width="3.30" height="3.30" rx="0.9" fill="#df921c"/>
<line x1="315.00" y1="131.00" x2="315.00" y2="136.00" stroke="#df921c" stroke-width="1.1"/>
<line x1="313.00" y1="131.00" x2="317.00" y2="131.00" stroke="#df921c" stroke-width="1.1"/>
<line x1="313.00" y1="136.00" x2="317.00" y2="136.00" stroke="#df921c" stroke-width="1.1"/>
<rect x="313.35" y="131.85" width="3.30" height="3.30" rx="0.9" fill="#df921c"/>
<line x1="330.00" y1="156.00" x2="330.00" y2="159.00" stroke="#df921c" stroke-width="1.1"/>
<line x1="328.00" y1="156.00" x2="332.00" y2="156.00" stroke="#df921c" stroke-width="1.1"/>
<line x1="328.00" y1="159.00" x2="332.00" y2="159.00" stroke="#df921c" stroke-width="1.1"/>
<rect x="328.35" y="155.85" width="3.30" height="3.30" rx="0.9" fill="#df921c"/>
<line x1="344.60" y1="156.00" x2="344.60" y2="159.00" stroke="#df921c" stroke-width="1.1"/>
<line x1="342.60" y1="156.00" x2="346.60" y2="156.00" stroke="#df921c" stroke-width="1.1"/>
<line x1="342.60" y1="159.00" x2="346.60" y2="159.00" stroke="#df921c" stroke-width="1.1"/>
<rect x="342.95" y="155.85" width="3.30" height="3.30" rx="0.9" fill="#df921c"/>
<line x1="359.20" y1="156.00" x2="359.20" y2="159.00" stroke="#df921c" stroke-width="1.1"/>
<line x1="357.20" y1="156.00" x2="361.20" y2="156.00" stroke="#df921c" stroke-width="1.1"/>
<line x1="357.20" y1="159.00" x2="361.20" y2="159.00" stroke="#df921c" stroke-width="1.1"/>
<rect x="357.55" y="155.85" width="3.30" height="3.30" rx="0.9" fill="#df921c"/>
<line x1="373.80" y1="125.80" x2="373.80" y2="135.80" stroke="#df921c" stroke-width="1.1"/>
<line x1="371.80" y1="125.80" x2="375.80" y2="125.80" stroke="#df921c" stroke-width="1.1"/>
<line x1="371.80" y1="135.80" x2="375.80" y2="135.80" stroke="#df921c" stroke-width="1.1"/>
<rect x="372.15" y="129.15" width="3.30" height="3.30" rx="0.9" fill="#df921c"/>
<line x1="388.70" y1="141.30" x2="388.70" y2="147.30" stroke="#df921c" stroke-width="1.1"/>
<line x1="386.70" y1="141.30" x2="390.70" y2="141.30" stroke="#df921c" stroke-width="1.1"/>
<line x1="386.70" y1="147.30" x2="390.70" y2="147.30" stroke="#df921c" stroke-width="1.1"/>
<rect x="387.05" y="142.65" width="3.30" height="3.30" rx="0.9" fill="#df921c"/>
<line x1="403.70" y1="143.50" x2="403.70" y2="149.50" stroke="#df921c" stroke-width="1.1"/>
<line x1="401.70" y1="143.50" x2="405.70" y2="143.50" stroke="#df921c" stroke-width="1.1"/>
<line x1="401.70" y1="149.50" x2="405.70" y2="149.50" stroke="#df921c" stroke-width="1.1"/>
<rect x="402.05" y="144.85" width="3.30" height="3.30" rx="0.9" fill="#df921c"/>
<line x1="418.50" y1="155.50" x2="418.50" y2="158.50" stroke="#df921c" stroke-width="1.1"/>
<line x1="416.50" y1="155.50" x2="420.50" y2="155.50" stroke="#df921c" stroke-width="1.1"/>
<line x1="416.50" y1="158.50" x2="420.50" y2="158.50" stroke="#df921c" stroke-width="1.1"/>
<rect x="416.85" y="155.35" width="3.30" height="3.30" rx="0.9" fill="#df921c"/>
<line x1="433.50" y1="156.00" x2="433.50" y2="159.00" stroke="#df921c" stroke-width="1.1"/>
<line x1="431.50" y1="156.00" x2="435.50" y2="156.00" stroke="#df921c" stroke-width="1.1"/>
<line x1="431.50" y1="159.00" x2="435.50" y2="159.00" stroke="#df921c" stroke-width="1.1"/>
<rect x="431.85" y="155.85" width="3.30" height="3.30" rx="0.9" fill="#df921c"/>
<line x1="447.90" y1="156.50" x2="447.90" y2="159.50" stroke="#df921c" stroke-width="1.1"/>
<line x1="445.90" y1="156.50" x2="449.90" y2="156.50" stroke="#df921c" stroke-width="1.1"/>
<line x1="445.90" y1="159.50" x2="449.90" y2="159.50" stroke="#df921c" stroke-width="1.1"/>
<rect x="446.25" y="156.35" width="3.30" height="3.30" rx="0.9" fill="#df921c"/>
<polyline points="285.80,134.40 300.10,134.40 315.00,133.30 330.00,158.00 344.60,157.80 359.20,157.70 373.80,132.80 388.70,138.80 403.70,137.90 418.50,156.90 433.50,157.50 447.90,158.40" fill="none" stroke="#a8082c" stroke-width="2.1" stroke-linejoin="round"/>
<line x1="285.80" y1="131.00" x2="285.80" y2="137.80" stroke="#a8082c" stroke-width="1.1"/>
<line x1="283.80" y1="131.00" x2="287.80" y2="131.00" stroke="#a8082c" stroke-width="1.1"/>
<line x1="283.80" y1="137.80" x2="287.80" y2="137.80" stroke="#a8082c" stroke-width="1.1"/>
<rect x="283.90" y="132.50" width="3.80" height="3.80" rx="0.9" fill="#a8082c"/>
<line x1="300.10" y1="131.00" x2="300.10" y2="137.80" stroke="#a8082c" stroke-width="1.1"/>
<line x1="298.10" y1="131.00" x2="302.10" y2="131.00" stroke="#a8082c" stroke-width="1.1"/>
<line x1="298.10" y1="137.80" x2="302.10" y2="137.80" stroke="#a8082c" stroke-width="1.1"/>
<rect x="298.20" y="132.50" width="3.80" height="3.80" rx="0.9" fill="#a8082c"/>
<line x1="315.00" y1="130.30" x2="315.00" y2="136.30" stroke="#a8082c" stroke-width="1.1"/>
<line x1="313.00" y1="130.30" x2="317.00" y2="130.30" stroke="#a8082c" stroke-width="1.1"/>
<line x1="313.00" y1="136.30" x2="317.00" y2="136.30" stroke="#a8082c" stroke-width="1.1"/>
<rect x="313.10" y="131.40" width="3.80" height="3.80" rx="0.9" fill="#a8082c"/>
<line x1="330.00" y1="156.50" x2="330.00" y2="159.50" stroke="#a8082c" stroke-width="1.1"/>
<line x1="328.00" y1="156.50" x2="332.00" y2="156.50" stroke="#a8082c" stroke-width="1.1"/>
<line x1="328.00" y1="159.50" x2="332.00" y2="159.50" stroke="#a8082c" stroke-width="1.1"/>
<rect x="328.10" y="156.10" width="3.80" height="3.80" rx="0.9" fill="#a8082c"/>
<line x1="344.60" y1="156.30" x2="344.60" y2="159.30" stroke="#a8082c" stroke-width="1.1"/>
<line x1="342.60" y1="156.30" x2="346.60" y2="156.30" stroke="#a8082c" stroke-width="1.1"/>
<line x1="342.60" y1="159.30" x2="346.60" y2="159.30" stroke="#a8082c" stroke-width="1.1"/>
<rect x="342.70" y="155.90" width="3.80" height="3.80" rx="0.9" fill="#a8082c"/>
<line x1="359.20" y1="156.20" x2="359.20" y2="159.20" stroke="#a8082c" stroke-width="1.1"/>
<line x1="357.20" y1="156.20" x2="361.20" y2="156.20" stroke="#a8082c" stroke-width="1.1"/>
<line x1="357.20" y1="159.20" x2="361.20" y2="159.20" stroke="#a8082c" stroke-width="1.1"/>
<rect x="357.30" y="155.80" width="3.80" height="3.80" rx="0.9" fill="#a8082c"/>
<line x1="373.80" y1="128.80" x2="373.80" y2="136.80" stroke="#a8082c" stroke-width="1.1"/>
<line x1="371.80" y1="128.80" x2="375.80" y2="128.80" stroke="#a8082c" stroke-width="1.1"/>
<line x1="371.80" y1="136.80" x2="375.80" y2="136.80" stroke="#a8082c" stroke-width="1.1"/>
<rect x="371.90" y="130.90" width="3.80" height="3.80" rx="0.9" fill="#a8082c"/>
<line x1="388.70" y1="136.30" x2="388.70" y2="141.30" stroke="#a8082c" stroke-width="1.1"/>
<line x1="386.70" y1="136.30" x2="390.70" y2="136.30" stroke="#a8082c" stroke-width="1.1"/>
<line x1="386.70" y1="141.30" x2="390.70" y2="141.30" stroke="#a8082c" stroke-width="1.1"/>
<rect x="386.80" y="136.90" width="3.80" height="3.80" rx="0.9" fill="#a8082c"/>
<line x1="403.70" y1="135.40" x2="403.70" y2="140.40" stroke="#a8082c" stroke-width="1.1"/>
<line x1="401.70" y1="135.40" x2="405.70" y2="135.40" stroke="#a8082c" stroke-width="1.1"/>
<line x1="401.70" y1="140.40" x2="405.70" y2="140.40" stroke="#a8082c" stroke-width="1.1"/>
<rect x="401.80" y="136.00" width="3.80" height="3.80" rx="0.9" fill="#a8082c"/>
<line x1="418.50" y1="155.40" x2="418.50" y2="158.40" stroke="#a8082c" stroke-width="1.1"/>
<line x1="416.50" y1="155.40" x2="420.50" y2="155.40" stroke="#a8082c" stroke-width="1.1"/>
<line x1="416.50" y1="158.40" x2="420.50" y2="158.40" stroke="#a8082c" stroke-width="1.1"/>
<rect x="416.60" y="155.00" width="3.80" height="3.80" rx="0.9" fill="#a8082c"/>
<line x1="433.50" y1="156.00" x2="433.50" y2="159.00" stroke="#a8082c" stroke-width="1.1"/>
<line x1="431.50" y1="156.00" x2="435.50" y2="156.00" stroke="#a8082c" stroke-width="1.1"/>
<line x1="431.50" y1="159.00" x2="435.50" y2="159.00" stroke="#a8082c" stroke-width="1.1"/>
<rect x="431.60" y="155.60" width="3.80" height="3.80" rx="0.9" fill="#a8082c"/>
<line x1="447.90" y1="156.90" x2="447.90" y2="159.90" stroke="#a8082c" stroke-width="1.1"/>
<line x1="445.90" y1="156.90" x2="449.90" y2="156.90" stroke="#a8082c" stroke-width="1.1"/>
<line x1="445.90" y1="159.90" x2="449.90" y2="159.90" stroke="#a8082c" stroke-width="1.1"/>
<rect x="446.00" y="156.50" width="3.80" height="3.80" rx="0.9" fill="#a8082c"/>
<polyline points="285.80,109.20 300.10,104.60 315.00,101.50 330.00,152.20 344.60,150.80 359.20,148.00 373.80,106.20 388.70,117.90 403.70,114.40 418.50,138.50 433.50,144.40 447.90,150.00" fill="none" stroke="#62a03f" stroke-width="1.7" stroke-linejoin="round"/>
<line x1="285.80" y1="106.70" x2="285.80" y2="111.70" stroke="#62a03f" stroke-width="1.1"/>
<line x1="283.80" y1="106.70" x2="287.80" y2="106.70" stroke="#62a03f" stroke-width="1.1"/>
<line x1="283.80" y1="111.70" x2="287.80" y2="111.70" stroke="#62a03f" stroke-width="1.1"/>
<rect x="284.15" y="107.55" width="3.30" height="3.30" rx="0.9" fill="#62a03f"/>
<line x1="300.10" y1="102.10" x2="300.10" y2="107.10" stroke="#62a03f" stroke-width="1.1"/>
<line x1="298.10" y1="102.10" x2="302.10" y2="102.10" stroke="#62a03f" stroke-width="1.1"/>
<line x1="298.10" y1="107.10" x2="302.10" y2="107.10" stroke="#62a03f" stroke-width="1.1"/>
<rect x="298.45" y="102.95" width="3.30" height="3.30" rx="0.9" fill="#62a03f"/>
<line x1="315.00" y1="98.50" x2="315.00" y2="104.50" stroke="#62a03f" stroke-width="1.1"/>
<line x1="313.00" y1="98.50" x2="317.00" y2="98.50" stroke="#62a03f" stroke-width="1.1"/>
<line x1="313.00" y1="104.50" x2="317.00" y2="104.50" stroke="#62a03f" stroke-width="1.1"/>
<rect x="313.35" y="99.85" width="3.30" height="3.30" rx="0.9" fill="#62a03f"/>
<line x1="330.00" y1="150.20" x2="330.00" y2="154.20" stroke="#62a03f" stroke-width="1.1"/>
<line x1="328.00" y1="150.20" x2="332.00" y2="150.20" stroke="#62a03f" stroke-width="1.1"/>
<line x1="328.00" y1="154.20" x2="332.00" y2="154.20" stroke="#62a03f" stroke-width="1.1"/>
<rect x="328.35" y="150.55" width="3.30" height="3.30" rx="0.9" fill="#62a03f"/>
<line x1="344.60" y1="148.80" x2="344.60" y2="152.80" stroke="#62a03f" stroke-width="1.1"/>
<line x1="342.60" y1="148.80" x2="346.60" y2="148.80" stroke="#62a03f" stroke-width="1.1"/>
<line x1="342.60" y1="152.80" x2="346.60" y2="152.80" stroke="#62a03f" stroke-width="1.1"/>
<rect x="342.95" y="149.15" width="3.30" height="3.30" rx="0.9" fill="#62a03f"/>
<line x1="359.20" y1="146.00" x2="359.20" y2="150.00" stroke="#62a03f" stroke-width="1.1"/>
<line x1="357.20" y1="146.00" x2="361.20" y2="146.00" stroke="#62a03f" stroke-width="1.1"/>
<line x1="357.20" y1="150.00" x2="361.20" y2="150.00" stroke="#62a03f" stroke-width="1.1"/>
<rect x="357.55" y="146.35" width="3.30" height="3.30" rx="0.9" fill="#62a03f"/>
<line x1="373.80" y1="100.20" x2="373.80" y2="112.20" stroke="#62a03f" stroke-width="1.1"/>
<line x1="371.80" y1="100.20" x2="375.80" y2="100.20" stroke="#62a03f" stroke-width="1.1"/>
<line x1="371.80" y1="112.20" x2="375.80" y2="112.20" stroke="#62a03f" stroke-width="1.1"/>
<rect x="372.15" y="104.55" width="3.30" height="3.30" rx="0.9" fill="#62a03f"/>
<line x1="388.70" y1="113.90" x2="388.70" y2="121.90" stroke="#62a03f" stroke-width="1.1"/>
<line x1="386.70" y1="113.90" x2="390.70" y2="113.90" stroke="#62a03f" stroke-width="1.1"/>
<line x1="386.70" y1="121.90" x2="390.70" y2="121.90" stroke="#62a03f" stroke-width="1.1"/>
<rect x="387.05" y="116.25" width="3.30" height="3.30" rx="0.9" fill="#62a03f"/>
<line x1="403.70" y1="109.90" x2="403.70" y2="118.90" stroke="#62a03f" stroke-width="1.1"/>
<line x1="401.70" y1="109.90" x2="405.70" y2="109.90" stroke="#62a03f" stroke-width="1.1"/>
<line x1="401.70" y1="118.90" x2="405.70" y2="118.90" stroke="#62a03f" stroke-width="1.1"/>
<rect x="402.05" y="112.75" width="3.30" height="3.30" rx="0.9" fill="#62a03f"/>
<line x1="418.50" y1="132.50" x2="418.50" y2="144.50" stroke="#62a03f" stroke-width="1.1"/>
<line x1="416.50" y1="132.50" x2="420.50" y2="132.50" stroke="#62a03f" stroke-width="1.1"/>
<line x1="416.50" y1="144.50" x2="420.50" y2="144.50" stroke="#62a03f" stroke-width="1.1"/>
<rect x="416.85" y="136.85" width="3.30" height="3.30" rx="0.9" fill="#62a03f"/>
<line x1="433.50" y1="138.40" x2="433.50" y2="150.40" stroke="#62a03f" stroke-width="1.1"/>
<line x1="431.50" y1="138.40" x2="435.50" y2="138.40" stroke="#62a03f" stroke-width="1.1"/>
<line x1="431.50" y1="150.40" x2="435.50" y2="150.40" stroke="#62a03f" stroke-width="1.1"/>
<rect x="431.85" y="142.75" width="3.30" height="3.30" rx="0.9" fill="#62a03f"/>
<line x1="447.90" y1="146.50" x2="447.90" y2="153.50" stroke="#62a03f" stroke-width="1.1"/>
<line x1="445.90" y1="146.50" x2="449.90" y2="146.50" stroke="#62a03f" stroke-width="1.1"/>
<line x1="445.90" y1="153.50" x2="449.90" y2="153.50" stroke="#62a03f" stroke-width="1.1"/>
<rect x="446.25" y="148.35" width="3.30" height="3.30" rx="0.9" fill="#62a03f"/>
<polyline points="285.80,82.30 300.10,80.00 315.00,78.20 330.00,143.20 344.60,140.00 359.20,134.60 373.80,69.20 388.70,88.90 403.70,86.00 418.50,131.90 433.50,136.90 447.90,145.30" fill="none" stroke="#2a4172" stroke-width="1.7" stroke-linejoin="round"/>
<line x1="285.80" y1="78.30" x2="285.80" y2="86.30" stroke="#2a4172" stroke-width="1.1"/>
<line x1="283.80" y1="78.30" x2="287.80" y2="78.30" stroke="#2a4172" stroke-width="1.1"/>
<line x1="283.80" y1="86.30" x2="287.80" y2="86.30" stroke="#2a4172" stroke-width="1.1"/>
<rect x="284.15" y="80.65" width="3.30" height="3.30" rx="0.9" fill="#2a4172"/>
<line x1="300.10" y1="76.00" x2="300.10" y2="84.00" stroke="#2a4172" stroke-width="1.1"/>
<line x1="298.10" y1="76.00" x2="302.10" y2="76.00" stroke="#2a4172" stroke-width="1.1"/>
<line x1="298.10" y1="84.00" x2="302.10" y2="84.00" stroke="#2a4172" stroke-width="1.1"/>
<rect x="298.45" y="78.35" width="3.30" height="3.30" rx="0.9" fill="#2a4172"/>
<line x1="315.00" y1="74.70" x2="315.00" y2="81.70" stroke="#2a4172" stroke-width="1.1"/>
<line x1="313.00" y1="74.70" x2="317.00" y2="74.70" stroke="#2a4172" stroke-width="1.1"/>
<line x1="313.00" y1="81.70" x2="317.00" y2="81.70" stroke="#2a4172" stroke-width="1.1"/>
<rect x="313.35" y="76.55" width="3.30" height="3.30" rx="0.9" fill="#2a4172"/>
<line x1="330.00" y1="141.20" x2="330.00" y2="145.20" stroke="#2a4172" stroke-width="1.1"/>
<line x1="328.00" y1="141.20" x2="332.00" y2="141.20" stroke="#2a4172" stroke-width="1.1"/>
<line x1="328.00" y1="145.20" x2="332.00" y2="145.20" stroke="#2a4172" stroke-width="1.1"/>
<rect x="328.35" y="141.55" width="3.30" height="3.30" rx="0.9" fill="#2a4172"/>
<line x1="344.60" y1="138.00" x2="344.60" y2="142.00" stroke="#2a4172" stroke-width="1.1"/>
<line x1="342.60" y1="138.00" x2="346.60" y2="138.00" stroke="#2a4172" stroke-width="1.1"/>
<line x1="342.60" y1="142.00" x2="346.60" y2="142.00" stroke="#2a4172" stroke-width="1.1"/>
<rect x="342.95" y="138.35" width="3.30" height="3.30" rx="0.9" fill="#2a4172"/>
<line x1="359.20" y1="132.60" x2="359.20" y2="136.60" stroke="#2a4172" stroke-width="1.1"/>
<line x1="357.20" y1="132.60" x2="361.20" y2="132.60" stroke="#2a4172" stroke-width="1.1"/>
<line x1="357.20" y1="136.60" x2="361.20" y2="136.60" stroke="#2a4172" stroke-width="1.1"/>
<rect x="357.55" y="132.95" width="3.30" height="3.30" rx="0.9" fill="#2a4172"/>
<line x1="373.80" y1="59.20" x2="373.80" y2="79.20" stroke="#2a4172" stroke-width="1.1"/>
<line x1="371.80" y1="59.20" x2="375.80" y2="59.20" stroke="#2a4172" stroke-width="1.1"/>
<line x1="371.80" y1="79.20" x2="375.80" y2="79.20" stroke="#2a4172" stroke-width="1.1"/>
<rect x="372.15" y="67.55" width="3.30" height="3.30" rx="0.9" fill="#2a4172"/>
<line x1="388.70" y1="83.90" x2="388.70" y2="93.90" stroke="#2a4172" stroke-width="1.1"/>
<line x1="386.70" y1="83.90" x2="390.70" y2="83.90" stroke="#2a4172" stroke-width="1.1"/>
<line x1="386.70" y1="93.90" x2="390.70" y2="93.90" stroke="#2a4172" stroke-width="1.1"/>
<rect x="387.05" y="87.25" width="3.30" height="3.30" rx="0.9" fill="#2a4172"/>
<line x1="403.70" y1="81.00" x2="403.70" y2="91.00" stroke="#2a4172" stroke-width="1.1"/>
<line x1="401.70" y1="81.00" x2="405.70" y2="81.00" stroke="#2a4172" stroke-width="1.1"/>
<line x1="401.70" y1="91.00" x2="405.70" y2="91.00" stroke="#2a4172" stroke-width="1.1"/>
<rect x="402.05" y="84.35" width="3.30" height="3.30" rx="0.9" fill="#2a4172"/>
<line x1="418.50" y1="122.40" x2="418.50" y2="141.40" stroke="#2a4172" stroke-width="1.1"/>
<line x1="416.50" y1="122.40" x2="420.50" y2="122.40" stroke="#2a4172" stroke-width="1.1"/>
<line x1="416.50" y1="141.40" x2="420.50" y2="141.40" stroke="#2a4172" stroke-width="1.1"/>
<rect x="416.85" y="130.25" width="3.30" height="3.30" rx="0.9" fill="#2a4172"/>
<line x1="433.50" y1="128.90" x2="433.50" y2="144.90" stroke="#2a4172" stroke-width="1.1"/>
<line x1="431.50" y1="128.90" x2="435.50" y2="128.90" stroke="#2a4172" stroke-width="1.1"/>
<line x1="431.50" y1="144.90" x2="435.50" y2="144.90" stroke="#2a4172" stroke-width="1.1"/>
<rect x="431.85" y="135.25" width="3.30" height="3.30" rx="0.9" fill="#2a4172"/>
<line x1="447.90" y1="140.80" x2="447.90" y2="149.80" stroke="#2a4172" stroke-width="1.1"/>
<line x1="445.90" y1="140.80" x2="449.90" y2="140.80" stroke="#2a4172" stroke-width="1.1"/>
<line x1="445.90" y1="149.80" x2="449.90" y2="149.80" stroke="#2a4172" stroke-width="1.1"/>
<rect x="446.25" y="143.65" width="3.30" height="3.30" rx="0.9" fill="#2a4172"/>
<circle cx="285.80" cy="128.30" r="1.15" fill="#1a1a1a"/>
<circle cx="373.80" cy="123.80" r="1.15" fill="#1a1a1a"/>
<text x="310.40" y="51.00" font-size="8.2" fill="#363636" stroke="#363636" stroke-width="0.15" textLength="38.80" lengthAdjust="spacingAndGlyphs">Oligomycin</text>
<line x1="330.00" y1="56.20" x2="330.00" y2="67.40" stroke="#111" stroke-width="1.3"/>
<path d="M327.90,66.40 L332.10,66.40 L330.00,70.90 Z" fill="#111"/>
<text x="364.50" y="28.80" font-size="8.8" fill="#363636" stroke="#363636" stroke-width="0.15" textLength="19.90" lengthAdjust="spacingAndGlyphs">FCCP</text>
<line x1="373.80" y1="34.60" x2="373.80" y2="45.80" stroke="#111" stroke-width="1.3"/>
<path d="M371.70,44.80 L375.90,44.80 L373.80,49.30 Z" fill="#111"/>
<text x="409.80" y="93.40" font-size="8.2" fill="#363636" stroke="#363636" stroke-width="0.15" textLength="34.20" lengthAdjust="spacingAndGlyphs">Antimycin</text>
<line x1="420.60" y1="98.00" x2="420.60" y2="108.90" stroke="#111" stroke-width="1.3"/>
<path d="M418.50,107.90 L422.70,107.90 L420.60,112.40 Z" fill="#111"/>
<line x1="426.90" y1="30.00" x2="435.20" y2="30.00" stroke="#cf9a26" stroke-width="1.7"/>
<path d="M428.8,30.00 L431.0,27.80 L433.2,30.00 L431.0,32.20 Z" fill="#cf9a26"/>
<text x="439.00" y="32.90" font-size="8.6" fill="#363636" stroke="#363636" stroke-width="0.15" textLength="73.10" lengthAdjust="spacingAndGlyphs">AC220+CB839+αKG</text>
<line x1="426.90" y1="41.90" x2="435.20" y2="41.90" stroke="#35204f" stroke-width="1.7"/>
<path d="M428.8,41.90 L431.0,39.70 L433.2,41.90 L431.0,44.10 Z" fill="#35204f"/>
<text x="439.00" y="44.80" font-size="8.6" fill="#363636" stroke="#363636" stroke-width="0.15" textLength="52.50" lengthAdjust="spacingAndGlyphs">AC220+CB839</text>
<line x1="426.90" y1="52.90" x2="435.20" y2="52.90" stroke="#66a048" stroke-width="1.7"/>
<path d="M428.8,52.90 L431.0,50.70 L433.2,52.90 L431.0,55.10 Z" fill="#66a048"/>
<text x="439.00" y="55.80" font-size="8.6" fill="#363636" stroke="#363636" stroke-width="0.15" textLength="23.10" lengthAdjust="spacingAndGlyphs">CB839</text>
<line x1="426.90" y1="63.70" x2="435.20" y2="63.70" stroke="#8e1530" stroke-width="1.7"/>
<path d="M428.8,63.70 L431.0,61.50 L433.2,63.70 L431.0,65.90 Z" fill="#8e1530"/>
<text x="439.00" y="66.60" font-size="8.6" fill="#363636" stroke="#363636" stroke-width="0.15" textLength="23.70" lengthAdjust="spacingAndGlyphs">AC220</text>
<line x1="426.90" y1="74.60" x2="435.20" y2="74.60" stroke="#2b4065" stroke-width="1.7"/>
<path d="M428.8,74.60 L431.0,72.40 L433.2,74.60 L431.0,76.80 Z" fill="#2b4065"/>
<text x="440.00" y="77.50" font-size="8.6" fill="#363636" stroke="#363636" stroke-width="0.15" textLength="23.10" lengthAdjust="spacingAndGlyphs">DMSO</text>
<text x="8.80" y="219.90" font-size="11.7" font-weight="bold" fill="#000" stroke="#000" stroke-width="0.3" textLength="7.70" lengthAdjust="spacingAndGlyphs">C</text>
<text x="79.70" y="218.20" font-size="10.0" font-weight="bold" fill="#000" stroke="#000" stroke-width="0.3" textLength="33.40" lengthAdjust="spacingAndGlyphs">MV411</text>
<rect x="48.60" y="303.50" width="13.40" height="39.40" fill="#2f4a80"/>
<rect x="68.80" y="267.10" width="13.40" height="75.80" fill="#a50027"/>
<rect x="89.10" y="294.60" width="13.40" height="48.30" fill="#6aac42"/>
<rect x="109.60" y="246.90" width="13.40" height="96.00" fill="#522665"/>
<rect x="130.10" y="276.70" width="13.40" height="66.20" fill="#db8a18"/>
<line x1="75.50" y1="262.30" x2="75.50" y2="271.90" stroke="#1a1a1a" stroke-width="1.1"/>
<line x1="72.90" y1="262.30" x2="78.10" y2="262.30" stroke="#1a1a1a" stroke-width="1.1"/>
<line x1="72.90" y1="271.90" x2="78.10" y2="271.90" stroke="#1a1a1a" stroke-width="1.1"/>
<line x1="95.80" y1="293.00" x2="95.80" y2="296.30" stroke="#1a1a1a" stroke-width="1.1"/>
<line x1="93.20" y1="293.00" x2="98.40" y2="293.00" stroke="#1a1a1a" stroke-width="1.1"/>
<line x1="93.20" y1="296.30" x2="98.40" y2="296.30" stroke="#1a1a1a" stroke-width="1.1"/>
<line x1="116.30" y1="240.20" x2="116.30" y2="253.10" stroke="#1a1a1a" stroke-width="1.1"/>
<line x1="113.70" y1="240.20" x2="118.90" y2="240.20" stroke="#1a1a1a" stroke-width="1.1"/>
<line x1="113.70" y1="253.10" x2="118.90" y2="253.10" stroke="#1a1a1a" stroke-width="1.1"/>
<line x1="136.80" y1="271.50" x2="136.80" y2="281.90" stroke="#1a1a1a" stroke-width="1.1"/>
<line x1="134.20" y1="271.50" x2="139.40" y2="271.50" stroke="#1a1a1a" stroke-width="1.1"/>
<line x1="134.20" y1="281.90" x2="139.40" y2="281.90" stroke="#1a1a1a" stroke-width="1.1"/>
<line x1="45.10" y1="234.30" x2="45.10" y2="343.70" stroke="#1a1a1a" stroke-width="1.6"/>
<line x1="44.30" y1="342.90" x2="147.30" y2="342.90" stroke="#1a1a1a" stroke-width="1.6"/>
<line x1="41.20" y1="342.60" x2="45.10" y2="342.60" stroke="#1a1a1a" stroke-width="1.2"/>
<text x="38.20" y="345.60" font-size="8.4" text-anchor="end" fill="#363636" stroke="#363636" stroke-width="0.15">0</text>
<line x1="41.20" y1="303.50" x2="45.10" y2="303.50" stroke="#1a1a1a" stroke-width="1.2"/>
<text x="38.20" y="306.50" font-size="8.4" text-anchor="end" fill="#363636" stroke="#363636" stroke-width="0.15">1</text>
<line x1="41.20" y1="264.40" x2="45.10" y2="264.40" stroke="#1a1a1a" stroke-width="1.2"/>
<text x="38.20" y="267.40" font-size="8.4" text-anchor="end" fill="#363636" stroke="#363636" stroke-width="0.15">2</text>
<line x1="55.30" y1="342.90" x2="55.30" y2="346.50" stroke="#1a1a1a" stroke-width="1.2"/>
<line x1="75.50" y1="342.90" x2="75.50" y2="346.50" stroke="#1a1a1a" stroke-width="1.2"/>
<line x1="95.80" y1="342.90" x2="95.80" y2="346.50" stroke="#1a1a1a" stroke-width="1.2"/>
<line x1="116.30" y1="342.90" x2="116.30" y2="346.50" stroke="#1a1a1a" stroke-width="1.2"/>
<line x1="136.80" y1="342.90" x2="136.80" y2="346.50" stroke="#1a1a1a" stroke-width="1.2"/>
<path d="M75.40,235.40 L75.40,231.50 L113.40,231.50 L113.40,238.20" fill="none" stroke="#1a1a1a" stroke-width="1.1"/>
<path d="M116.00,236.20 L116.00,231.80 L138.40,231.80 L138.40,239.20" fill="none" stroke="#1a1a1a" stroke-width="1.1"/>
<circle cx="94.60" cy="227.60" r="1.15" fill="#1a1a1a"/>
<circle cx="123.80" cy="228.40" r="1.15" fill="#1a1a1a"/>
<circle cx="127.40" cy="228.40" r="1.15" fill="#1a1a1a"/>
<circle cx="131.00" cy="228.40" r="1.15" fill="#1a1a1a"/>
<text transform="translate(25.60,321.10) rotate(-90)" font-size="9.2" fill="#363636" stroke="#363636" stroke-width="0.15" textLength="65.50" lengthAdjust="spacingAndGlyphs">Relative ROS levels</text>
<text transform="translate(61.30,354.40) rotate(-45)" font-size="8.5" text-anchor="end" fill="#363636" stroke="#363636" stroke-width="0.15">DMSO</text>
<text transform="translate(81.50,354.40) rotate(-45)" font-size="8.5" text-anchor="end" fill="#363636" stroke="#363636" stroke-width="0.15">AC220</text>
<text transform="translate(101.80,354.40) rotate(-45)" font-size="8.5" text-anchor="end" fill="#363636" stroke="#363636" stroke-width="0.15">CB839</text>
<text transform="translate(122.30,354.40) rotate(-45)" font-size="8.5" text-anchor="end" fill="#363636" stroke="#363636" stroke-width="0.15">AC220+CB839</text>
<text transform="translate(142.80,354.40) rotate(-45)" font-size="8.5" text-anchor="end" fill="#363636" stroke="#363636" stroke-width="0.15">AC220+CB839+αKG</text>
<text x="246.30" y="219.80" font-size="11.7" font-weight="bold" fill="#000" stroke="#000" stroke-width="0.3" textLength="8.80" lengthAdjust="spacingAndGlyphs">D</text>
<text x="312.60" y="218.20" font-size="10.0" font-weight="bold" fill="#000" stroke="#000" stroke-width="0.3" textLength="43.10" lengthAdjust="spacingAndGlyphs">MOLM13</text>
<rect x="286.65" y="288.80" width="13.30" height="54.10" fill="#2f4a80"/>
<rect x="306.85" y="272.20" width="13.30" height="70.70" fill="#a50027"/>
<rect x="327.05" y="282.30" width="13.30" height="60.60" fill="#6aac42"/>
<rect x="347.25" y="253.70" width="13.30" height="89.20" fill="#522665"/>
<rect x="367.55" y="264.10" width="13.30" height="78.80" fill="#db8a18"/>
<line x1="313.50" y1="268.40" x2="313.50" y2="275.70" stroke="#1a1a1a" stroke-width="1.1"/>
<line x1="310.90" y1="268.40" x2="316.10" y2="268.40" stroke="#1a1a1a" stroke-width="1.1"/>
<line x1="310.90" y1="275.70" x2="316.10" y2="275.70" stroke="#1a1a1a" stroke-width="1.1"/>
<line x1="333.70" y1="277.40" x2="333.70" y2="286.60" stroke="#1a1a1a" stroke-width="1.1"/>
<line x1="331.10" y1="277.40" x2="336.30" y2="277.40" stroke="#1a1a1a" stroke-width="1.1"/>
<line x1="331.10" y1="286.60" x2="336.30" y2="286.60" stroke="#1a1a1a" stroke-width="1.1"/>
<line x1="353.90" y1="245.60" x2="353.90" y2="261.20" stroke="#1a1a1a" stroke-width="1.1"/>
<line x1="351.30" y1="245.60" x2="356.50" y2="245.60" stroke="#1a1a1a" stroke-width="1.1"/>
<line x1="351.30" y1="261.20" x2="356.50" y2="261.20" stroke="#1a1a1a" stroke-width="1.1"/>
<line x1="374.20" y1="258.40" x2="374.20" y2="269.80" stroke="#1a1a1a" stroke-width="1.1"/>
<line x1="371.60" y1="258.40" x2="376.80" y2="258.40" stroke="#1a1a1a" stroke-width="1.1"/>
<line x1="371.60" y1="269.80" x2="376.80" y2="269.80" stroke="#1a1a1a" stroke-width="1.1"/>
<line x1="283.00" y1="231.50" x2="283.00" y2="343.70" stroke="#1a1a1a" stroke-width="1.6"/>
<line x1="282.20" y1="342.90" x2="385.40" y2="342.90" stroke="#1a1a1a" stroke-width="1.6"/>
<line x1="279.10" y1="342.60" x2="283.00" y2="342.60" stroke="#1a1a1a" stroke-width="1.2"/>
<text x="276.40" y="345.60" font-size="8.4" text-anchor="end" fill="#363636" stroke="#363636" stroke-width="0.15">0.0</text>
<line x1="279.10" y1="315.75" x2="283.00" y2="315.75" stroke="#1a1a1a" stroke-width="1.2"/>
<text x="276.40" y="318.75" font-size="8.4" text-anchor="end" fill="#363636" stroke="#363636" stroke-width="0.15">0.5</text>
<line x1="279.10" y1="288.90" x2="283.00" y2="288.90" stroke="#1a1a1a" stroke-width="1.2"/>
<text x="276.40" y="291.90" font-size="8.4" text-anchor="end" fill="#363636" stroke="#363636" stroke-width="0.15">1.0</text>
<line x1="279.10" y1="262.05" x2="283.00" y2="262.05" stroke="#1a1a1a" stroke-width="1.2"/>
<text x="276.40" y="265.05" font-size="8.4" text-anchor="end" fill="#363636" stroke="#363636" stroke-width="0.15">1.5</text>
<line x1="279.10" y1="235.20" x2="283.00" y2="235.20" stroke="#1a1a1a" stroke-width="1.2"/>
<text x="276.40" y="238.20" font-size="8.4" text-anchor="end" fill="#363636" stroke="#363636" stroke-width="0.15">2.0</text>
<line x1="293.30" y1="342.90" x2="293.30" y2="346.50" stroke="#1a1a1a" stroke-width="1.2"/>
<line x1="313.50" y1="342.90" x2="313.50" y2="346.50" stroke="#1a1a1a" stroke-width="1.2"/>
<line x1="333.70" y1="342.90" x2="333.70" y2="346.50" stroke="#1a1a1a" stroke-width="1.2"/>
<line x1="353.90" y1="342.90" x2="353.90" y2="346.50" stroke="#1a1a1a" stroke-width="1.2"/>
<line x1="374.20" y1="342.90" x2="374.20" y2="346.50" stroke="#1a1a1a" stroke-width="1.2"/>
<path d="M314.70,240.40 L314.70,236.40 L354.20,236.40 L354.20,243.40" fill="none" stroke="#1a1a1a" stroke-width="1.1"/>
<circle cx="334.60" cy="232.50" r="1.15" fill="#1a1a1a"/>
<text transform="translate(257.00,319.90) rotate(-90)" font-size="9.2" fill="#363636" stroke="#363636" stroke-width="0.15" textLength="65.60" lengthAdjust="spacingAndGlyphs">Relative ROS levels</text>
<text transform="translate(299.30,354.20) rotate(-45)" font-size="8.5" text-anchor="end" fill="#363636" stroke="#363636" stroke-width="0.15">DMSO</text>
<text transform="translate(319.50,354.20) rotate(-45)" font-size="8.5" text-anchor="end" fill="#363636" stroke="#363636" stroke-width="0.15">AC220</text>
<text transform="translate(339.70,354.20) rotate(-45)" font-size="8.5" text-anchor="end" fill="#363636" stroke="#363636" stroke-width="0.15">CB839</text>
<text transform="translate(359.90,354.20) rotate(-45)" font-size="8.5" text-anchor="end" fill="#363636" stroke="#363636" stroke-width="0.15">AC220+CB839</text>
<text transform="translate(380.20,354.20) rotate(-45)" font-size="8.5" text-anchor="end" fill="#363636" stroke="#363636" stroke-width="0.15">AC220+CB839+αKG</text>
<text x="9.50" y="437.30" font-size="11.7" font-weight="bold" fill="#000" stroke="#000" stroke-width="0.3" textLength="6.60" lengthAdjust="spacingAndGlyphs">E</text>
<text x="80.80" y="435.80" font-size="10.0" font-weight="bold" fill="#000" stroke="#000" stroke-width="0.3" textLength="33.00" lengthAdjust="spacingAndGlyphs">MV411</text>
<rect x="48.40" y="543.00" width="13.60" height="22.10" fill="#2f4a80"/>
<rect x="69.20" y="485.20" width="13.60" height="79.90" fill="#a50027"/>
<rect x="90.00" y="537.90" width="13.60" height="27.20" fill="#6aac42"/>
<rect x="110.50" y="462.30" width="13.60" height="102.80" fill="#522665"/>
<rect x="131.30" y="486.20" width="13.60" height="78.90" fill="#db8a18"/>
<line x1="55.20" y1="540.30" x2="55.20" y2="545.20" stroke="#1a1a1a" stroke-width="1.1"/>
<line x1="52.60" y1="540.30" x2="57.80" y2="540.30" stroke="#1a1a1a" stroke-width="1.1"/>
<line x1="52.60" y1="545.20" x2="57.80" y2="545.20" stroke="#1a1a1a" stroke-width="1.1"/>
<line x1="76.00" y1="477.70" x2="76.00" y2="491.90" stroke="#1a1a1a" stroke-width="1.1"/>
<line x1="73.40" y1="477.70" x2="78.60" y2="477.70" stroke="#1a1a1a" stroke-width="1.1"/>
<line x1="73.40" y1="491.90" x2="78.60" y2="491.90" stroke="#1a1a1a" stroke-width="1.1"/>
<line x1="96.80" y1="533.60" x2="96.80" y2="541.70" stroke="#1a1a1a" stroke-width="1.1"/>
<line x1="94.20" y1="533.60" x2="99.40" y2="533.60" stroke="#1a1a1a" stroke-width="1.1"/>
<line x1="94.20" y1="541.70" x2="99.40" y2="541.70" stroke="#1a1a1a" stroke-width="1.1"/>
<line x1="117.30" y1="456.90" x2="117.30" y2="466.90" stroke="#1a1a1a" stroke-width="1.1"/>
<line x1="114.70" y1="456.90" x2="119.90" y2="456.90" stroke="#1a1a1a" stroke-width="1.1"/>
<line x1="114.70" y1="466.90" x2="119.90" y2="466.90" stroke="#1a1a1a" stroke-width="1.1"/>
<line x1="138.10" y1="480.40" x2="138.10" y2="491.90" stroke="#1a1a1a" stroke-width="1.1"/>
<line x1="135.50" y1="480.40" x2="140.70" y2="480.40" stroke="#1a1a1a" stroke-width="1.1"/>
<line x1="135.50" y1="491.90" x2="140.70" y2="491.90" stroke="#1a1a1a" stroke-width="1.1"/>
<line x1="45.10" y1="455.10" x2="45.10" y2="565.90" stroke="#1a1a1a" stroke-width="1.6"/>
<line x1="44.30" y1="565.10" x2="148.50" y2="565.10" stroke="#1a1a1a" stroke-width="1.6"/>
<line x1="41.20" y1="564.80" x2="45.10" y2="564.80" stroke="#1a1a1a" stroke-width="1.2"/>
<text x="37.80" y="567.80" font-size="8.4" text-anchor="end" fill="#363636" stroke="#363636" stroke-width="0.15">0</text>
<line x1="41.20" y1="531.08" x2="45.10" y2="531.08" stroke="#1a1a1a" stroke-width="1.2"/>
<text x="37.80" y="534.08" font-size="8.4" text-anchor="end" fill="#363636" stroke="#363636" stroke-width="0.15">20</text>
<line x1="41.20" y1="497.36" x2="45.10" y2="497.36" stroke="#1a1a1a" stroke-width="1.2"/>
<text x="37.80" y="500.36" font-size="8.4" text-anchor="end" fill="#363636" stroke="#363636" stroke-width="0.15">40</text>
<line x1="41.20" y1="463.64" x2="45.10" y2="463.64" stroke="#1a1a1a" stroke-width="1.2"/>
<text x="37.80" y="466.64" font-size="8.4" text-anchor="end" fill="#363636" stroke="#363636" stroke-width="0.15">60</text>
<line x1="55.20" y1="565.10" x2="55.20" y2="568.70" stroke="#1a1a1a" stroke-width="1.2"/>
<line x1="76.00" y1="565.10" x2="76.00" y2="568.70" stroke="#1a1a1a" stroke-width="1.2"/>
<line x1="96.80" y1="565.10" x2="96.80" y2="568.70" stroke="#1a1a1a" stroke-width="1.2"/>
<line x1="117.30" y1="565.10" x2="117.30" y2="568.70" stroke="#1a1a1a" stroke-width="1.2"/>
<line x1="138.10" y1="565.10" x2="138.10" y2="568.70" stroke="#1a1a1a" stroke-width="1.2"/>
<path d="M74.40,453.10 L74.40,449.20 L114.40,449.20 L114.40,456.70" fill="none" stroke="#1a1a1a" stroke-width="1.1"/>
<path d="M115.90,453.00 L115.90,449.20 L140.20,449.20 L140.20,455.50" fill="none" stroke="#1a1a1a" stroke-width="1.1"/>
<circle cx="94.60" cy="445.00" r="1.15" fill="#1a1a1a"/>
<circle cx="128.00" cy="445.00" r="1.15" fill="#1a1a1a"/>
<text transform="translate(21.00,539.20) rotate(-90)" font-size="9.2" fill="#363636" stroke="#363636" stroke-width="0.15" textLength="58.80" lengthAdjust="spacingAndGlyphs">% apoptotic cells</text>
<text transform="translate(61.20,575.80) rotate(-45)" font-size="8.5" text-anchor="end" fill="#363636" stroke="#363636" stroke-width="0.15">DMSO</text>
<text transform="translate(82.00,575.80) rotate(-45)" font-size="8.5" text-anchor="end" fill="#363636" stroke="#363636" stroke-width="0.15">AC220</text>
<text transform="translate(102.80,575.80) rotate(-45)" font-size="8.5" text-anchor="end" fill="#363636" stroke="#363636" stroke-width="0.15">CB839</text>
<text transform="translate(123.30,575.80) rotate(-45)" font-size="8.5" text-anchor="end" fill="#363636" stroke="#363636" stroke-width="0.15">AC220+CB839</text>
<text transform="translate(144.10,575.80) rotate(-45)" font-size="8.5" text-anchor="end" fill="#363636" stroke="#363636" stroke-width="0.15">AC220+CB839+αKG</text>
<text x="247.50" y="437.30" font-size="11.7" font-weight="bold" fill="#000" stroke="#000" stroke-width="0.3" textLength="6.30" lengthAdjust="spacingAndGlyphs">F</text>
<text x="313.50" y="436.20" font-size="10.0" font-weight="bold" fill="#000" stroke="#000" stroke-width="0.3" textLength="43.80" lengthAdjust="spacingAndGlyphs">MOLM13</text>
<rect x="286.25" y="529.30" width="13.70" height="35.80" fill="#2f4a80"/>
<rect x="307.25" y="497.20" width="13.70" height="67.90" fill="#a50027"/>
<rect x="328.05" y="535.50" width="13.70" height="29.60" fill="#6aac42"/>
<rect x="348.75" y="468.50" width="13.70" height="96.60" fill="#522665"/>
<rect x="369.55" y="498.00" width="13.70" height="67.10" fill="#db8a18"/>
<line x1="293.10" y1="525.00" x2="293.10" y2="533.00" stroke="#1a1a1a" stroke-width="1.1"/>
<line x1="290.50" y1="525.00" x2="295.70" y2="525.00" stroke="#1a1a1a" stroke-width="1.1"/>
<line x1="290.50" y1="533.00" x2="295.70" y2="533.00" stroke="#1a1a1a" stroke-width="1.1"/>
<line x1="314.10" y1="489.20" x2="314.10" y2="504.60" stroke="#1a1a1a" stroke-width="1.1"/>
<line x1="311.50" y1="489.20" x2="316.70" y2="489.20" stroke="#1a1a1a" stroke-width="1.1"/>
<line x1="311.50" y1="504.60" x2="316.70" y2="504.60" stroke="#1a1a1a" stroke-width="1.1"/>
<line x1="334.90" y1="531.30" x2="334.90" y2="539.30" stroke="#1a1a1a" stroke-width="1.1"/>
<line x1="332.30" y1="531.30" x2="337.50" y2="531.30" stroke="#1a1a1a" stroke-width="1.1"/>
<line x1="332.30" y1="539.30" x2="337.50" y2="539.30" stroke="#1a1a1a" stroke-width="1.1"/>
<line x1="355.60" y1="461.30" x2="355.60" y2="474.80" stroke="#1a1a1a" stroke-width="1.1"/>
<line x1="353.00" y1="461.30" x2="358.20" y2="461.30" stroke="#1a1a1a" stroke-width="1.1"/>
<line x1="353.00" y1="474.80" x2="358.20" y2="474.80" stroke="#1a1a1a" stroke-width="1.1"/>
<line x1="376.40" y1="489.20" x2="376.40" y2="506.20" stroke="#1a1a1a" stroke-width="1.1"/>
<line x1="373.80" y1="489.20" x2="379.00" y2="489.20" stroke="#1a1a1a" stroke-width="1.1"/>
<line x1="373.80" y1="506.20" x2="379.00" y2="506.20" stroke="#1a1a1a" stroke-width="1.1"/>
<line x1="283.10" y1="451.50" x2="283.10" y2="565.90" stroke="#1a1a1a" stroke-width="1.6"/>
<line x1="282.30" y1="565.10" x2="387.50" y2="565.10" stroke="#1a1a1a" stroke-width="1.6"/>
<line x1="279.20" y1="564.80" x2="283.10" y2="564.80" stroke="#1a1a1a" stroke-width="1.2"/>
<text x="276.40" y="567.80" font-size="8.4" text-anchor="end" fill="#363636" stroke="#363636" stroke-width="0.15">0</text>
<line x1="279.20" y1="537.40" x2="283.10" y2="537.40" stroke="#1a1a1a" stroke-width="1.2"/>
<text x="276.40" y="540.40" font-size="8.4" text-anchor="end" fill="#363636" stroke="#363636" stroke-width="0.15">10</text>
<line x1="279.20" y1="510.00" x2="283.10" y2="510.00" stroke="#1a1a1a" stroke-width="1.2"/>
<text x="276.40" y="513.00" font-size="8.4" text-anchor="end" fill="#363636" stroke="#363636" stroke-width="0.15">20</text>
<line x1="279.20" y1="482.60" x2="283.10" y2="482.60" stroke="#1a1a1a" stroke-width="1.2"/>
<text x="276.40" y="485.60" font-size="8.4" text-anchor="end" fill="#363636" stroke="#363636" stroke-width="0.15">30</text>
<line x1="279.20" y1="455.20" x2="283.10" y2="455.20" stroke="#1a1a1a" stroke-width="1.2"/>
<text x="276.40" y="458.20" font-size="8.4" text-anchor="end" fill="#363636" stroke="#363636" stroke-width="0.15">40</text>
<line x1="293.10" y1="565.10" x2="293.10" y2="568.70" stroke="#1a1a1a" stroke-width="1.2"/>
<line x1="314.10" y1="565.10" x2="314.10" y2="568.70" stroke="#1a1a1a" stroke-width="1.2"/>
<line x1="334.90" y1="565.10" x2="334.90" y2="568.70" stroke="#1a1a1a" stroke-width="1.2"/>
<line x1="355.60" y1="565.10" x2="355.60" y2="568.70" stroke="#1a1a1a" stroke-width="1.2"/>
<line x1="376.40" y1="565.10" x2="376.40" y2="568.70" stroke="#1a1a1a" stroke-width="1.2"/>
<path d="M313.10,457.50 L313.10,453.40 L354.50,453.40 L354.50,460.80" fill="none" stroke="#1a1a1a" stroke-width="1.1"/>
<path d="M357.80,457.00 L357.80,453.40 L381.90,453.40 L381.90,460.20" fill="none" stroke="#1a1a1a" stroke-width="1.1"/>
<circle cx="334.00" cy="449.80" r="1.15" fill="#1a1a1a"/>
<circle cx="369.60" cy="449.80" r="1.15" fill="#1a1a1a"/>
<text transform="translate(259.00,536.20) rotate(-90)" font-size="9.2" fill="#363636" stroke="#363636" stroke-width="0.15" textLength="57.80" lengthAdjust="spacingAndGlyphs">% apoptotic cells</text>
<text transform="translate(299.10,576.20) rotate(-45)" font-size="8.5" text-anchor="end" fill="#363636" stroke="#363636" stroke-width="0.15">DMSO</text>
<text transform="translate(320.10,576.20) rotate(-45)" font-size="8.5" text-anchor="end" fill="#363636" stroke="#363636" stroke-width="0.15">AC220</text>
<text transform="translate(340.90,576.20) rotate(-45)" font-size="8.5" text-anchor="end" fill="#363636" stroke="#363636" stroke-width="0.15">CB839</text>
<text transform="translate(361.60,576.20) rotate(-45)" font-size="8.5" text-anchor="end" fill="#363636" stroke="#363636" stroke-width="0.15">AC220+CB839</text>
<text transform="translate(382.40,576.20) rotate(-45)" font-size="8.5" text-anchor="end" fill="#363636" stroke="#363636" stroke-width="0.15">AC220+CB839+αKG</text>
<rect x="0.00" y="0.00" width="520.00" height="1.50" fill="#000"/>
<rect x="0.00" y="0.00" width="1.40" height="641.00" fill="#000"/>
<rect x="518.40" y="0.00" width="1.60" height="641.00" fill="#000"/>
<rect x="0.00" y="639.10" width="520.00" height="1.90" fill="#000"/>
</svg>
</body></html>
